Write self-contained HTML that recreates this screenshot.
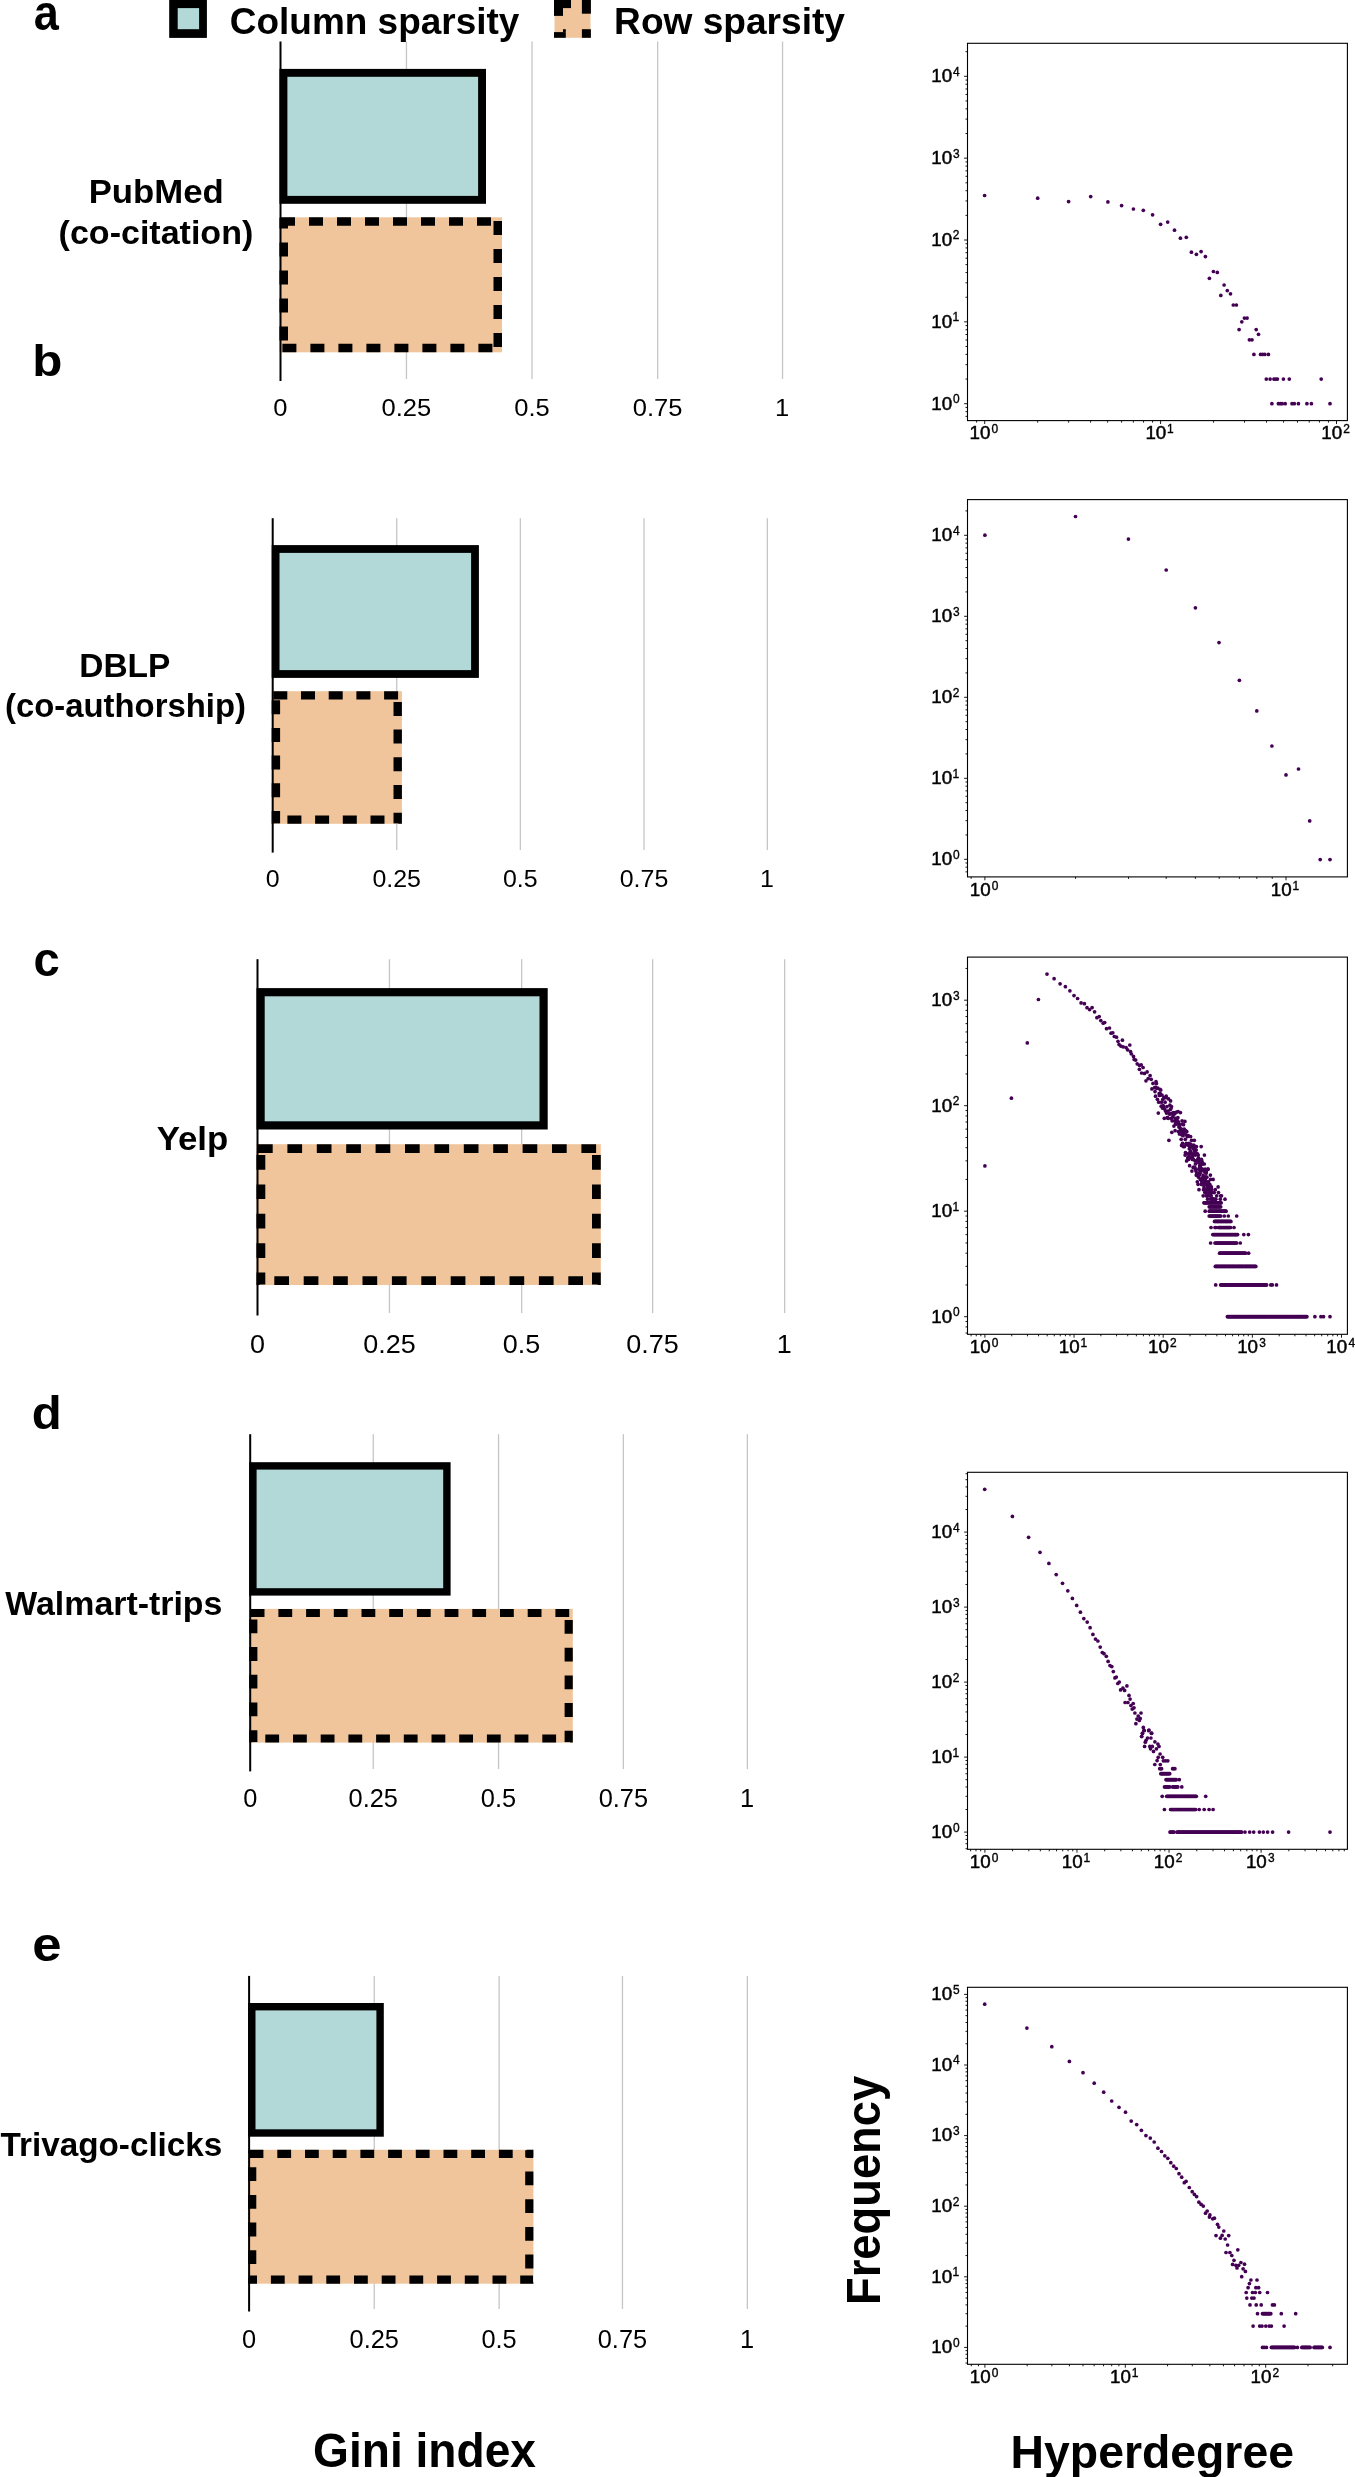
<!DOCTYPE html>
<html><head><meta charset="utf-8"><style>
html,body{margin:0;padding:0;background:#fff;}
svg{display:block;will-change:transform;font-family:"Liberation Sans",sans-serif;}
</style></head><body>
<svg width="1355" height="2477" viewBox="0 0 1355 2477">
<rect width="1355" height="2477" fill="#fff"/>
<rect x="405.8" y="41.5" width="1.3" height="337.5" fill="#c6c6c6"/>
<rect x="531.4" y="41.5" width="1.3" height="337.5" fill="#c6c6c6"/>
<rect x="657.0" y="41.5" width="1.3" height="337.5" fill="#c6c6c6"/>
<rect x="781.9" y="41.5" width="1.3" height="337.5" fill="#c6c6c6"/>
<rect x="279.5" y="68.9" width="206.5" height="134.9" fill="#000"/>
<rect x="287.4" y="76.8" width="190.7" height="119.1" fill="#b2d9d8"/>
<rect x="279.5" y="217.3" width="222.5" height="135.0" fill="#f0c59b"/>
<clipPath id="c217"><rect x="279.5" y="217.3" width="222.5" height="135.0"/></clipPath>
<rect clip-path="url(#c217)" x="279.9" y="217.7" width="221.7" height="134.2" fill="none" stroke="#000" stroke-width="16.2" stroke-dasharray="14 14" stroke-dashoffset="-1.1"/>
<rect x="279.5" y="41.5" width="2" height="339.5" fill="#000"/>
<text x="273.39" y="415.86" font-size="24.45" textLength="14.20" lengthAdjust="spacingAndGlyphs">0</text>
<text x="381.58" y="415.86" font-size="24.45" textLength="49.68" lengthAdjust="spacingAndGlyphs">0.25</text>
<text x="514.26" y="415.86" font-size="24.45" textLength="35.48" lengthAdjust="spacingAndGlyphs">0.5</text>
<text x="632.78" y="415.86" font-size="24.45" textLength="49.68" lengthAdjust="spacingAndGlyphs">0.75</text>
<text x="775.07" y="415.86" font-size="24.45" textLength="14.20" lengthAdjust="spacingAndGlyphs">1</text>
<text x="88.65" y="203.20" font-size="33.10" font-weight="bold" textLength="135.15" lengthAdjust="spacingAndGlyphs">PubMed</text>
<text x="58.60" y="243.90" font-size="33.66" font-weight="bold" textLength="194.68" lengthAdjust="spacingAndGlyphs">(co-citation)</text>
<rect x="396.1" y="518.2" width="1.3" height="331.8" fill="#c6c6c6"/>
<rect x="519.7" y="518.2" width="1.3" height="331.8" fill="#c6c6c6"/>
<rect x="643.4" y="518.2" width="1.3" height="331.8" fill="#c6c6c6"/>
<rect x="766.7" y="518.2" width="1.3" height="331.8" fill="#c6c6c6"/>
<rect x="271.7" y="545.1" width="207.2" height="132.8" fill="#000"/>
<rect x="279.5" y="552.9" width="191.6" height="117.2" fill="#b2d9d8"/>
<rect x="271.7" y="691.2" width="130.2" height="132.6" fill="#f0c59b"/>
<clipPath id="c691"><rect x="271.7" y="691.2" width="130.2" height="132.6"/></clipPath>
<rect clip-path="url(#c691)" x="272.1" y="691.6" width="129.4" height="131.8" fill="none" stroke="#000" stroke-width="16.0" stroke-dasharray="14 13.7" stroke-dashoffset="-1.2000000000000002"/>
<rect x="271.7" y="518.2" width="2" height="334.4" fill="#000"/>
<text x="265.75" y="887.26" font-size="24.31" textLength="13.87" lengthAdjust="spacingAndGlyphs">0</text>
<text x="372.45" y="887.26" font-size="24.31" textLength="48.53" lengthAdjust="spacingAndGlyphs">0.25</text>
<text x="502.97" y="887.26" font-size="24.31" textLength="34.66" lengthAdjust="spacingAndGlyphs">0.5</text>
<text x="619.75" y="887.26" font-size="24.31" textLength="48.53" lengthAdjust="spacingAndGlyphs">0.75</text>
<text x="760.04" y="887.26" font-size="24.31" textLength="13.87" lengthAdjust="spacingAndGlyphs">1</text>
<text x="79.24" y="677.00" font-size="33.75" font-weight="bold" textLength="91.12" lengthAdjust="spacingAndGlyphs">DBLP</text>
<text x="5.06" y="717.30" font-size="32.55" font-weight="bold" textLength="240.89" lengthAdjust="spacingAndGlyphs">(co-authorship)</text>
<rect x="388.8" y="959.2" width="1.3" height="353.8" fill="#c6c6c6"/>
<rect x="521.0" y="959.2" width="1.3" height="353.8" fill="#c6c6c6"/>
<rect x="652.0" y="959.2" width="1.3" height="353.8" fill="#c6c6c6"/>
<rect x="784.0" y="959.2" width="1.3" height="353.8" fill="#c6c6c6"/>
<rect x="256.5" y="988.1" width="291.2" height="141.4" fill="#000"/>
<rect x="264.7" y="996.3" width="274.8" height="125.0" fill="#b2d9d8"/>
<rect x="256.5" y="1144.2" width="344.3" height="140.8" fill="#f0c59b"/>
<clipPath id="c1144"><rect x="256.5" y="1144.2" width="344.3" height="140.8"/></clipPath>
<rect clip-path="url(#c1144)" x="256.9" y="1144.6" width="343.5" height="140.0" fill="none" stroke="#000" stroke-width="16.8" stroke-dasharray="14.7 14.7" stroke-dashoffset="-1.1"/>
<rect x="256.5" y="959.2" width="2" height="356.3" fill="#000"/>
<text x="249.98" y="1353.24" font-size="25.72" textLength="15.00" lengthAdjust="spacingAndGlyphs">0</text>
<text x="363.17" y="1353.24" font-size="25.72" textLength="52.49" lengthAdjust="spacingAndGlyphs">0.25</text>
<text x="502.86" y="1353.24" font-size="25.72" textLength="37.49" lengthAdjust="spacingAndGlyphs">0.5</text>
<text x="626.37" y="1353.24" font-size="25.72" textLength="52.49" lengthAdjust="spacingAndGlyphs">0.75</text>
<text x="776.74" y="1353.24" font-size="25.72" textLength="15.00" lengthAdjust="spacingAndGlyphs">1</text>
<text x="156.69" y="1149.70" font-size="33.66" font-weight="bold" textLength="71.56" lengthAdjust="spacingAndGlyphs">Yelp</text>
<rect x="372.6" y="1434.2" width="1.3" height="334.8" fill="#c6c6c6"/>
<rect x="497.9" y="1434.2" width="1.3" height="334.8" fill="#c6c6c6"/>
<rect x="622.7" y="1434.2" width="1.3" height="334.8" fill="#c6c6c6"/>
<rect x="746.7" y="1434.2" width="1.3" height="334.8" fill="#c6c6c6"/>
<rect x="249.2" y="1462.2" width="201.4" height="133.4" fill="#000"/>
<rect x="256.6" y="1469.6" width="186.6" height="118.6" fill="#b2d9d8"/>
<rect x="249.2" y="1608.9" width="323.6" height="133.7" fill="#f0c59b"/>
<clipPath id="c1608"><rect x="249.2" y="1608.9" width="323.6" height="133.7"/></clipPath>
<rect clip-path="url(#c1608)" x="249.6" y="1609.3" width="322.8" height="132.9" fill="none" stroke="#000" stroke-width="15.600000000000001" stroke-dasharray="13.8 13.9" stroke-dashoffset="-1.1"/>
<rect x="249.2" y="1434.2" width="2" height="337.2" fill="#000"/>
<text x="243.13" y="1807.34" font-size="25.72" textLength="14.11" lengthAdjust="spacingAndGlyphs">0</text>
<text x="348.54" y="1807.34" font-size="25.72" textLength="49.36" lengthAdjust="spacingAndGlyphs">0.25</text>
<text x="480.87" y="1807.34" font-size="25.72" textLength="35.26" lengthAdjust="spacingAndGlyphs">0.5</text>
<text x="598.64" y="1807.34" font-size="25.72" textLength="49.36" lengthAdjust="spacingAndGlyphs">0.75</text>
<text x="739.91" y="1807.34" font-size="25.72" textLength="14.11" lengthAdjust="spacingAndGlyphs">1</text>
<text x="5.30" y="1615.20" font-size="33.66" font-weight="bold" textLength="217.09" lengthAdjust="spacingAndGlyphs">Walmart-trips</text>
<rect x="373.6" y="1975.9" width="1.3" height="333.1" fill="#c6c6c6"/>
<rect x="498.5" y="1975.9" width="1.3" height="333.1" fill="#c6c6c6"/>
<rect x="621.8" y="1975.9" width="1.3" height="333.1" fill="#c6c6c6"/>
<rect x="746.7" y="1975.9" width="1.3" height="333.1" fill="#c6c6c6"/>
<rect x="248.1" y="2003.0" width="135.7" height="133.7" fill="#000"/>
<rect x="255.5" y="2010.4" width="120.9" height="118.9" fill="#b2d9d8"/>
<rect x="248.1" y="2149.8" width="285.3" height="133.9" fill="#f0c59b"/>
<clipPath id="c2149"><rect x="248.1" y="2149.8" width="285.3" height="133.9"/></clipPath>
<rect clip-path="url(#c2149)" x="248.5" y="2150.2" width="284.5" height="133.1" fill="none" stroke="#000" stroke-width="15.600000000000001" stroke-dasharray="13.8 13.9" stroke-dashoffset="-1.1"/>
<rect x="248.1" y="1975.9" width="2" height="335.6" fill="#000"/>
<text x="242.03" y="2348.25" font-size="25.16" textLength="14.11" lengthAdjust="spacingAndGlyphs">0</text>
<text x="349.54" y="2348.25" font-size="25.16" textLength="49.36" lengthAdjust="spacingAndGlyphs">0.25</text>
<text x="481.47" y="2348.25" font-size="25.16" textLength="35.26" lengthAdjust="spacingAndGlyphs">0.5</text>
<text x="597.74" y="2348.25" font-size="25.16" textLength="49.36" lengthAdjust="spacingAndGlyphs">0.75</text>
<text x="739.91" y="2348.25" font-size="25.16" textLength="14.11" lengthAdjust="spacingAndGlyphs">1</text>
<text x="0.57" y="2156.10" font-size="32.97" font-weight="bold" textLength="221.77" lengthAdjust="spacingAndGlyphs">Trivago-clicks</text>
<text x="33.65" y="29.60" font-size="49.49" font-weight="bold" textLength="25.07" lengthAdjust="spacingAndGlyphs">a</text>
<text x="32.20" y="376.00" font-size="45.24" font-weight="bold" textLength="30.12" lengthAdjust="spacingAndGlyphs">b</text>
<text x="33.61" y="976.20" font-size="47.44" font-weight="bold" textLength="26.24" lengthAdjust="spacingAndGlyphs">c</text>
<text x="31.74" y="1429.20" font-size="45.93" font-weight="bold" textLength="30.00" lengthAdjust="spacingAndGlyphs">d</text>
<text x="32.39" y="1961.40" font-size="48.00" font-weight="bold" textLength="29.28" lengthAdjust="spacingAndGlyphs">e</text>
<rect x="169.2" y="-1" width="37.7" height="38.9" fill="#000"/>
<rect x="177.7" y="8.1" width="21.4" height="21.1" fill="#b2d9d8"/>
<text x="229.82" y="33.90" font-size="37.66" font-weight="bold" textLength="289.57" lengthAdjust="spacingAndGlyphs">Column sparsity</text>
<rect x="554.5" y="-1" width="36" height="38.8" fill="#f0c59b"/>
<rect x="554" y="-1" width="17" height="9.1" fill="#000"/>
<rect x="554" y="8" width="9" height="7.9" fill="#000"/>
<rect x="581.9" y="-1" width="9" height="14.7" fill="#000"/>
<rect x="554" y="32.1" width="11.8" height="5.7" fill="#000"/>
<rect x="563" y="29.2" width="2.8" height="3" fill="#000"/>
<rect x="581.9" y="29.2" width="9" height="8.6" fill="#000"/>
<text x="614.10" y="33.90" font-size="37.66" font-weight="bold" textLength="230.86" lengthAdjust="spacingAndGlyphs">Row sparsity</text>
<text x="313.06" y="2467.20" font-size="47.31" font-weight="bold" textLength="222.87" lengthAdjust="spacingAndGlyphs">Gini index</text>
<text x="1010.57" y="2467.50" font-size="46.34" font-weight="bold" textLength="283.40" lengthAdjust="spacingAndGlyphs">Hyperdegree</text>
<g transform="rotate(-90)"><text x="-2304.96" y="880.00" font-size="48.15" font-weight="bold" textLength="229.09" lengthAdjust="spacingAndGlyphs">Frequency</text></g>
<rect x="967.50" y="43.30" width="379.90" height="377.30" fill="none" stroke="#000" stroke-width="1.1"/>
<path d="M965.50 416.38H967.50M965.50 411.63H967.50M965.50 407.45H967.50M964.10 403.70H967.50M965.50 379.06H967.50M965.50 364.65H967.50M965.50 354.42H967.50M965.50 346.49H967.50M965.50 340.01H967.50M965.50 334.53H967.50M965.50 329.78H967.50M965.50 325.60H967.50M964.10 321.85H967.50M965.50 297.21H967.50M965.50 282.80H967.50M965.50 272.57H967.50M965.50 264.64H967.50M965.50 258.16H967.50M965.50 252.68H967.50M965.50 247.93H967.50M965.50 243.75H967.50M964.10 240.00H967.50M965.50 215.36H967.50M965.50 200.95H967.50M965.50 190.72H967.50M965.50 182.79H967.50M965.50 176.31H967.50M965.50 170.83H967.50M965.50 166.08H967.50M965.50 161.90H967.50M964.10 158.15H967.50M965.50 133.51H967.50M965.50 119.10H967.50M965.50 108.87H967.50M965.50 100.94H967.50M965.50 94.46H967.50M965.50 88.98H967.50M965.50 84.23H967.50M965.50 80.05H967.50M964.10 76.30H967.50M965.50 51.66H967.50M976.65 420.6V422.60M984.70 420.6V424.00M1037.65 420.6V422.60M1068.63 420.6V422.60M1090.60 420.6V422.60M1107.65 420.6V422.60M1121.58 420.6V422.60M1133.35 420.6V422.60M1143.55 420.6V422.60M1152.55 420.6V422.60M1160.60 420.6V424.00M1213.55 420.6V422.60M1244.53 420.6V422.60M1266.50 420.6V422.60M1283.55 420.6V422.60M1297.48 420.6V422.60M1309.25 420.6V422.60M1319.45 420.6V422.60M1328.45 420.6V422.60M1336.50 420.6V424.00" stroke="#000" stroke-width="0.9" fill="none"/>
<text x="931.22" y="409.50" font-size="17.46" textLength="20.91" lengthAdjust="spacingAndGlyphs" stroke="#000" stroke-width="0.45">10</text>
<text x="952.90" y="403.11" font-size="11.94" stroke="#000" stroke-width="0.35">0</text>
<text x="931.22" y="327.65" font-size="17.46" textLength="20.91" lengthAdjust="spacingAndGlyphs" stroke="#000" stroke-width="0.45">10</text>
<text x="952.48" y="321.26" font-size="11.94" stroke="#000" stroke-width="0.35">1</text>
<text x="931.22" y="245.80" font-size="17.46" textLength="20.91" lengthAdjust="spacingAndGlyphs" stroke="#000" stroke-width="0.45">10</text>
<text x="952.78" y="239.41" font-size="11.94" stroke="#000" stroke-width="0.35">2</text>
<text x="931.22" y="163.95" font-size="17.46" textLength="20.91" lengthAdjust="spacingAndGlyphs" stroke="#000" stroke-width="0.45">10</text>
<text x="952.93" y="157.56" font-size="11.94" stroke="#000" stroke-width="0.35">3</text>
<text x="931.22" y="82.10" font-size="17.46" textLength="20.91" lengthAdjust="spacingAndGlyphs" stroke="#000" stroke-width="0.45">10</text>
<text x="953.11" y="75.71" font-size="11.94" stroke="#000" stroke-width="0.35">4</text>
<text x="969.52" y="439.20" font-size="17.46" textLength="20.91" lengthAdjust="spacingAndGlyphs" stroke="#000" stroke-width="0.45">10</text>
<text x="991.60" y="433.21" font-size="11.94" stroke="#000" stroke-width="0.35">0</text>
<text x="1145.42" y="439.20" font-size="17.46" textLength="20.91" lengthAdjust="spacingAndGlyphs" stroke="#000" stroke-width="0.45">10</text>
<text x="1167.08" y="433.21" font-size="11.94" stroke="#000" stroke-width="0.35">1</text>
<text x="1321.32" y="439.20" font-size="17.46" textLength="20.91" lengthAdjust="spacingAndGlyphs" stroke="#000" stroke-width="0.45">10</text>
<text x="1343.28" y="433.21" font-size="11.94" stroke="#000" stroke-width="0.35">2</text>
<rect x="967.50" y="499.60" width="379.90" height="377.30" fill="none" stroke="#000" stroke-width="1.1"/>
<path d="M965.50 871.85H967.50M965.50 867.15H967.50M965.50 863.01H967.50M964.10 859.30H967.50M965.50 834.92H967.50M965.50 820.65H967.50M965.50 810.53H967.50M965.50 802.68H967.50M965.50 796.27H967.50M965.50 790.85H967.50M965.50 786.15H967.50M965.50 782.01H967.50M964.10 778.30H967.50M965.50 753.92H967.50M965.50 739.65H967.50M965.50 729.53H967.50M965.50 721.68H967.50M965.50 715.27H967.50M965.50 709.85H967.50M965.50 705.15H967.50M965.50 701.01H967.50M964.10 697.30H967.50M965.50 672.92H967.50M965.50 658.65H967.50M965.50 648.53H967.50M965.50 640.68H967.50M965.50 634.27H967.50M965.50 628.85H967.50M965.50 624.15H967.50M965.50 620.01H967.50M964.10 616.30H967.50M965.50 591.92H967.50M965.50 577.65H967.50M965.50 567.53H967.50M965.50 559.68H967.50M965.50 553.27H967.50M965.50 547.85H967.50M965.50 543.15H967.50M965.50 539.01H967.50M964.10 535.30H967.50M965.50 510.92H967.50M971.12 876.9V878.90M984.90 876.9V880.30M1075.54 876.9V878.90M1128.56 876.9V878.90M1166.18 876.9V878.90M1195.36 876.9V878.90M1219.20 876.9V878.90M1239.36 876.9V878.90M1256.82 876.9V878.90M1272.22 876.9V878.90M1286.00 876.9V880.30" stroke="#000" stroke-width="0.9" fill="none"/>
<text x="931.22" y="865.10" font-size="17.46" textLength="20.91" lengthAdjust="spacingAndGlyphs" stroke="#000" stroke-width="0.45">10</text>
<text x="952.90" y="858.71" font-size="11.94" stroke="#000" stroke-width="0.35">0</text>
<text x="931.22" y="784.10" font-size="17.46" textLength="20.91" lengthAdjust="spacingAndGlyphs" stroke="#000" stroke-width="0.45">10</text>
<text x="952.48" y="777.71" font-size="11.94" stroke="#000" stroke-width="0.35">1</text>
<text x="931.22" y="703.10" font-size="17.46" textLength="20.91" lengthAdjust="spacingAndGlyphs" stroke="#000" stroke-width="0.45">10</text>
<text x="952.78" y="696.71" font-size="11.94" stroke="#000" stroke-width="0.35">2</text>
<text x="931.22" y="622.10" font-size="17.46" textLength="20.91" lengthAdjust="spacingAndGlyphs" stroke="#000" stroke-width="0.45">10</text>
<text x="952.93" y="615.71" font-size="11.94" stroke="#000" stroke-width="0.35">3</text>
<text x="931.22" y="541.10" font-size="17.46" textLength="20.91" lengthAdjust="spacingAndGlyphs" stroke="#000" stroke-width="0.45">10</text>
<text x="953.11" y="534.71" font-size="11.94" stroke="#000" stroke-width="0.35">4</text>
<text x="969.72" y="895.50" font-size="17.46" textLength="20.91" lengthAdjust="spacingAndGlyphs" stroke="#000" stroke-width="0.45">10</text>
<text x="991.80" y="889.51" font-size="11.94" stroke="#000" stroke-width="0.35">0</text>
<text x="1270.82" y="895.50" font-size="17.46" textLength="20.91" lengthAdjust="spacingAndGlyphs" stroke="#000" stroke-width="0.45">10</text>
<text x="1292.48" y="889.51" font-size="11.94" stroke="#000" stroke-width="0.35">1</text>
<rect x="967.50" y="957.10" width="379.90" height="377.20" fill="none" stroke="#000" stroke-width="1.1"/>
<path d="M965.50 1333.04H967.50M965.50 1326.92H967.50M965.50 1321.53H967.50M964.10 1316.70H967.50M965.50 1284.94H967.50M965.50 1266.36H967.50M965.50 1253.18H967.50M965.50 1242.96H967.50M965.50 1234.61H967.50M965.50 1227.54H967.50M965.50 1221.42H967.50M965.50 1216.03H967.50M964.10 1211.20H967.50M965.50 1179.44H967.50M965.50 1160.86H967.50M965.50 1147.68H967.50M965.50 1137.46H967.50M965.50 1129.11H967.50M965.50 1122.04H967.50M965.50 1115.92H967.50M965.50 1110.53H967.50M964.10 1105.70H967.50M965.50 1073.94H967.50M965.50 1055.36H967.50M965.50 1042.18H967.50M965.50 1031.96H967.50M965.50 1023.61H967.50M965.50 1016.54H967.50M965.50 1010.42H967.50M965.50 1005.03H967.50M964.10 1000.20H967.50M965.50 968.44H967.50M971.09 1334.3V1336.30M976.26 1334.3V1336.30M980.82 1334.3V1336.30M984.90 1334.3V1337.70M1011.74 1334.3V1336.30M1027.44 1334.3V1336.30M1038.57 1334.3V1336.30M1047.21 1334.3V1336.30M1054.27 1334.3V1336.30M1060.24 1334.3V1336.30M1065.41 1334.3V1336.30M1069.97 1334.3V1336.30M1074.05 1334.3V1337.70M1100.89 1334.3V1336.30M1116.59 1334.3V1336.30M1127.72 1334.3V1336.30M1136.36 1334.3V1336.30M1143.42 1334.3V1336.30M1149.39 1334.3V1336.30M1154.56 1334.3V1336.30M1159.12 1334.3V1336.30M1163.20 1334.3V1337.70M1190.04 1334.3V1336.30M1205.74 1334.3V1336.30M1216.87 1334.3V1336.30M1225.51 1334.3V1336.30M1232.57 1334.3V1336.30M1238.54 1334.3V1336.30M1243.71 1334.3V1336.30M1248.27 1334.3V1336.30M1252.35 1334.3V1337.70M1279.19 1334.3V1336.30M1294.89 1334.3V1336.30M1306.02 1334.3V1336.30M1314.66 1334.3V1336.30M1321.72 1334.3V1336.30M1327.69 1334.3V1336.30M1332.86 1334.3V1336.30M1337.42 1334.3V1336.30M1341.50 1334.3V1337.70" stroke="#000" stroke-width="0.9" fill="none"/>
<text x="931.22" y="1322.50" font-size="17.46" textLength="20.91" lengthAdjust="spacingAndGlyphs" stroke="#000" stroke-width="0.45">10</text>
<text x="952.90" y="1316.11" font-size="11.94" stroke="#000" stroke-width="0.35">0</text>
<text x="931.22" y="1217.00" font-size="17.46" textLength="20.91" lengthAdjust="spacingAndGlyphs" stroke="#000" stroke-width="0.45">10</text>
<text x="952.48" y="1210.61" font-size="11.94" stroke="#000" stroke-width="0.35">1</text>
<text x="931.22" y="1111.50" font-size="17.46" textLength="20.91" lengthAdjust="spacingAndGlyphs" stroke="#000" stroke-width="0.45">10</text>
<text x="952.78" y="1105.11" font-size="11.94" stroke="#000" stroke-width="0.35">2</text>
<text x="931.22" y="1006.00" font-size="17.46" textLength="20.91" lengthAdjust="spacingAndGlyphs" stroke="#000" stroke-width="0.45">10</text>
<text x="952.93" y="999.61" font-size="11.94" stroke="#000" stroke-width="0.35">3</text>
<text x="969.72" y="1352.90" font-size="17.46" textLength="20.91" lengthAdjust="spacingAndGlyphs" stroke="#000" stroke-width="0.45">10</text>
<text x="991.80" y="1346.91" font-size="11.94" stroke="#000" stroke-width="0.35">0</text>
<text x="1058.87" y="1352.90" font-size="17.46" textLength="20.91" lengthAdjust="spacingAndGlyphs" stroke="#000" stroke-width="0.45">10</text>
<text x="1080.53" y="1346.91" font-size="11.94" stroke="#000" stroke-width="0.35">1</text>
<text x="1148.02" y="1352.90" font-size="17.46" textLength="20.91" lengthAdjust="spacingAndGlyphs" stroke="#000" stroke-width="0.45">10</text>
<text x="1169.98" y="1346.91" font-size="11.94" stroke="#000" stroke-width="0.35">2</text>
<text x="1237.17" y="1352.90" font-size="17.46" textLength="20.91" lengthAdjust="spacingAndGlyphs" stroke="#000" stroke-width="0.45">10</text>
<text x="1259.28" y="1346.91" font-size="11.94" stroke="#000" stroke-width="0.35">3</text>
<text x="1326.32" y="1352.90" font-size="17.46" textLength="20.91" lengthAdjust="spacingAndGlyphs" stroke="#000" stroke-width="0.45">10</text>
<text x="1348.61" y="1346.91" font-size="11.94" stroke="#000" stroke-width="0.35">4</text>
<rect x="967.50" y="1472.30" width="379.90" height="377.00" fill="none" stroke="#000" stroke-width="1.1"/>
<path d="M965.50 1848.74H967.50M965.50 1843.72H967.50M965.50 1839.37H967.50M965.50 1835.53H967.50M964.10 1832.10H967.50M965.50 1809.52H967.50M965.50 1796.32H967.50M965.50 1786.95H967.50M965.50 1779.68H967.50M965.50 1773.74H967.50M965.50 1768.72H967.50M965.50 1764.37H967.50M965.50 1760.53H967.50M964.10 1757.10H967.50M965.50 1734.52H967.50M965.50 1721.32H967.50M965.50 1711.95H967.50M965.50 1704.68H967.50M965.50 1698.74H967.50M965.50 1693.72H967.50M965.50 1689.37H967.50M965.50 1685.53H967.50M964.10 1682.10H967.50M965.50 1659.52H967.50M965.50 1646.32H967.50M965.50 1636.95H967.50M965.50 1629.68H967.50M965.50 1623.74H967.50M965.50 1618.72H967.50M965.50 1614.37H967.50M965.50 1610.53H967.50M964.10 1607.10H967.50M965.50 1584.52H967.50M965.50 1571.32H967.50M965.50 1561.95H967.50M965.50 1554.68H967.50M965.50 1548.74H967.50M965.50 1543.72H967.50M965.50 1539.37H967.50M965.50 1535.53H967.50M964.10 1532.10H967.50M965.50 1509.52H967.50M965.50 1496.32H967.50M965.50 1486.95H967.50M965.50 1479.68H967.50M965.50 1473.74H967.50M970.64 1849.3V1851.30M975.98 1849.3V1851.30M980.69 1849.3V1851.30M984.90 1849.3V1852.70M1012.62 1849.3V1851.30M1028.83 1849.3V1851.30M1040.33 1849.3V1851.30M1049.25 1849.3V1851.30M1056.54 1849.3V1851.30M1062.71 1849.3V1851.30M1068.05 1849.3V1851.30M1072.76 1849.3V1851.30M1076.97 1849.3V1852.70M1104.69 1849.3V1851.30M1120.90 1849.3V1851.30M1132.40 1849.3V1851.30M1141.32 1849.3V1851.30M1148.61 1849.3V1851.30M1154.78 1849.3V1851.30M1160.12 1849.3V1851.30M1164.83 1849.3V1851.30M1169.04 1849.3V1852.70M1196.76 1849.3V1851.30M1212.97 1849.3V1851.30M1224.47 1849.3V1851.30M1233.39 1849.3V1851.30M1240.68 1849.3V1851.30M1246.85 1849.3V1851.30M1252.19 1849.3V1851.30M1256.90 1849.3V1851.30M1261.11 1849.3V1852.70M1288.83 1849.3V1851.30M1305.04 1849.3V1851.30M1316.54 1849.3V1851.30M1325.46 1849.3V1851.30M1332.75 1849.3V1851.30M1338.92 1849.3V1851.30M1344.26 1849.3V1851.30" stroke="#000" stroke-width="0.9" fill="none"/>
<text x="931.22" y="1837.90" font-size="17.46" textLength="20.91" lengthAdjust="spacingAndGlyphs" stroke="#000" stroke-width="0.45">10</text>
<text x="952.90" y="1831.51" font-size="11.94" stroke="#000" stroke-width="0.35">0</text>
<text x="931.22" y="1762.90" font-size="17.46" textLength="20.91" lengthAdjust="spacingAndGlyphs" stroke="#000" stroke-width="0.45">10</text>
<text x="952.48" y="1756.51" font-size="11.94" stroke="#000" stroke-width="0.35">1</text>
<text x="931.22" y="1687.90" font-size="17.46" textLength="20.91" lengthAdjust="spacingAndGlyphs" stroke="#000" stroke-width="0.45">10</text>
<text x="952.78" y="1681.51" font-size="11.94" stroke="#000" stroke-width="0.35">2</text>
<text x="931.22" y="1612.90" font-size="17.46" textLength="20.91" lengthAdjust="spacingAndGlyphs" stroke="#000" stroke-width="0.45">10</text>
<text x="952.93" y="1606.51" font-size="11.94" stroke="#000" stroke-width="0.35">3</text>
<text x="931.22" y="1537.90" font-size="17.46" textLength="20.91" lengthAdjust="spacingAndGlyphs" stroke="#000" stroke-width="0.45">10</text>
<text x="953.11" y="1531.51" font-size="11.94" stroke="#000" stroke-width="0.35">4</text>
<text x="969.72" y="1867.90" font-size="17.46" textLength="20.91" lengthAdjust="spacingAndGlyphs" stroke="#000" stroke-width="0.45">10</text>
<text x="991.80" y="1861.91" font-size="11.94" stroke="#000" stroke-width="0.35">0</text>
<text x="1061.79" y="1867.90" font-size="17.46" textLength="20.91" lengthAdjust="spacingAndGlyphs" stroke="#000" stroke-width="0.45">10</text>
<text x="1083.45" y="1861.91" font-size="11.94" stroke="#000" stroke-width="0.35">1</text>
<text x="1153.86" y="1867.90" font-size="17.46" textLength="20.91" lengthAdjust="spacingAndGlyphs" stroke="#000" stroke-width="0.45">10</text>
<text x="1175.82" y="1861.91" font-size="11.94" stroke="#000" stroke-width="0.35">2</text>
<text x="1245.93" y="1867.90" font-size="17.46" textLength="20.91" lengthAdjust="spacingAndGlyphs" stroke="#000" stroke-width="0.45">10</text>
<text x="1268.04" y="1861.91" font-size="11.94" stroke="#000" stroke-width="0.35">3</text>
<rect x="967.50" y="1987.30" width="379.90" height="377.00" fill="none" stroke="#000" stroke-width="1.1"/>
<path d="M965.50 2363.06H967.50M965.50 2358.34H967.50M965.50 2354.24H967.50M965.50 2350.63H967.50M964.10 2347.40H967.50M965.50 2326.15H967.50M965.50 2313.72H967.50M965.50 2304.89H967.50M965.50 2298.05H967.50M965.50 2292.46H967.50M965.50 2287.74H967.50M965.50 2283.64H967.50M965.50 2280.03H967.50M964.10 2276.80H967.50M965.50 2255.55H967.50M965.50 2243.12H967.50M965.50 2234.29H967.50M965.50 2227.45H967.50M965.50 2221.86H967.50M965.50 2217.14H967.50M965.50 2213.04H967.50M965.50 2209.43H967.50M964.10 2206.20H967.50M965.50 2184.95H967.50M965.50 2172.52H967.50M965.50 2163.69H967.50M965.50 2156.85H967.50M965.50 2151.26H967.50M965.50 2146.54H967.50M965.50 2142.44H967.50M965.50 2138.83H967.50M964.10 2135.60H967.50M965.50 2114.35H967.50M965.50 2101.92H967.50M965.50 2093.09H967.50M965.50 2086.25H967.50M965.50 2080.66H967.50M965.50 2075.94H967.50M965.50 2071.84H967.50M965.50 2068.23H967.50M964.10 2065.00H967.50M965.50 2043.75H967.50M965.50 2031.32H967.50M965.50 2022.49H967.50M965.50 2015.65H967.50M965.50 2010.06H967.50M965.50 2005.34H967.50M965.50 2001.24H967.50M965.50 1997.63H967.50M964.10 1994.40H967.50M971.29 2364.3V2366.30M978.48 2364.3V2366.30M984.90 2364.3V2367.70M1027.16 2364.3V2366.30M1051.89 2364.3V2366.30M1069.43 2364.3V2366.30M1083.04 2364.3V2366.30M1094.15 2364.3V2366.30M1103.55 2364.3V2366.30M1111.69 2364.3V2366.30M1118.88 2364.3V2366.30M1125.30 2364.3V2367.70M1167.56 2364.3V2366.30M1192.29 2364.3V2366.30M1209.83 2364.3V2366.30M1223.44 2364.3V2366.30M1234.55 2364.3V2366.30M1243.95 2364.3V2366.30M1252.09 2364.3V2366.30M1259.28 2364.3V2366.30M1265.70 2364.3V2367.70M1307.96 2364.3V2366.30M1332.69 2364.3V2366.30" stroke="#000" stroke-width="0.9" fill="none"/>
<text x="931.22" y="2353.20" font-size="17.46" textLength="20.91" lengthAdjust="spacingAndGlyphs" stroke="#000" stroke-width="0.45">10</text>
<text x="952.90" y="2346.81" font-size="11.94" stroke="#000" stroke-width="0.35">0</text>
<text x="931.22" y="2282.60" font-size="17.46" textLength="20.91" lengthAdjust="spacingAndGlyphs" stroke="#000" stroke-width="0.45">10</text>
<text x="952.48" y="2276.21" font-size="11.94" stroke="#000" stroke-width="0.35">1</text>
<text x="931.22" y="2212.00" font-size="17.46" textLength="20.91" lengthAdjust="spacingAndGlyphs" stroke="#000" stroke-width="0.45">10</text>
<text x="952.78" y="2205.61" font-size="11.94" stroke="#000" stroke-width="0.35">2</text>
<text x="931.22" y="2141.40" font-size="17.46" textLength="20.91" lengthAdjust="spacingAndGlyphs" stroke="#000" stroke-width="0.45">10</text>
<text x="952.93" y="2135.01" font-size="11.94" stroke="#000" stroke-width="0.35">3</text>
<text x="931.22" y="2070.80" font-size="17.46" textLength="20.91" lengthAdjust="spacingAndGlyphs" stroke="#000" stroke-width="0.45">10</text>
<text x="953.11" y="2064.41" font-size="11.94" stroke="#000" stroke-width="0.35">4</text>
<text x="931.22" y="2000.20" font-size="17.46" textLength="20.91" lengthAdjust="spacingAndGlyphs" stroke="#000" stroke-width="0.45">10</text>
<text x="952.90" y="1993.81" font-size="11.94" stroke="#000" stroke-width="0.35">5</text>
<text x="969.72" y="2382.90" font-size="17.46" textLength="20.91" lengthAdjust="spacingAndGlyphs" stroke="#000" stroke-width="0.45">10</text>
<text x="991.80" y="2376.91" font-size="11.94" stroke="#000" stroke-width="0.35">0</text>
<text x="1110.12" y="2382.90" font-size="17.46" textLength="20.91" lengthAdjust="spacingAndGlyphs" stroke="#000" stroke-width="0.45">10</text>
<text x="1131.78" y="2376.91" font-size="11.94" stroke="#000" stroke-width="0.35">1</text>
<text x="1250.52" y="2382.90" font-size="17.46" textLength="20.91" lengthAdjust="spacingAndGlyphs" stroke="#000" stroke-width="0.45">10</text>
<text x="1272.48" y="2376.91" font-size="11.94" stroke="#000" stroke-width="0.35">2</text>
<g fill="#440154"><circle cx="984.6" cy="195.5" r="1.85"/><circle cx="1037.7" cy="198.2" r="1.85"/><circle cx="1068.6" cy="201.6" r="1.85"/><circle cx="1090.7" cy="196.6" r="1.85"/><circle cx="1107.9" cy="201.9" r="1.85"/><circle cx="1121.6" cy="205.6" r="1.85"/><circle cx="1133.4" cy="209.0" r="1.85"/><circle cx="1143.3" cy="210.3" r="1.85"/><circle cx="1152.6" cy="214.8" r="1.85"/><circle cx="1160.6" cy="224.3" r="1.85"/><circle cx="1167.7" cy="222.1" r="1.85"/><circle cx="1174.5" cy="230.2" r="1.85"/><circle cx="1180.4" cy="238.2" r="1.85"/><circle cx="1186.3" cy="237.3" r="1.85"/><circle cx="1191.4" cy="252.2" r="1.85"/><circle cx="1196.4" cy="254.3" r="1.85"/><circle cx="1201.1" cy="251.6" r="1.85"/><circle cx="1205.4" cy="256.6" r="1.85"/><circle cx="1209.4" cy="278.3" r="1.85"/><circle cx="1213.4" cy="271.5" r="1.85"/><circle cx="1217.3" cy="272.4" r="1.85"/><circle cx="1220.8" cy="295.4" r="1.85"/><circle cx="1224.1" cy="285.0" r="1.85"/><circle cx="1227.3" cy="290.6" r="1.85"/><circle cx="1230.5" cy="293.8" r="1.85"/><circle cx="1233.3" cy="305.0" r="1.85"/><circle cx="1236.4" cy="305.0" r="1.85"/><circle cx="1239.1" cy="329.6" r="1.85"/><circle cx="1241.8" cy="321.8" r="1.85"/><circle cx="1244.4" cy="318.1" r="1.85"/><circle cx="1247.1" cy="318.1" r="1.85"/><circle cx="1249.4" cy="339.8" r="1.85"/><circle cx="1252.0" cy="339.8" r="1.85"/><circle cx="1256.2" cy="329.6" r="1.85"/><circle cx="1258.5" cy="334.3" r="1.85"/><circle cx="1253.9" cy="354.4" r="1.85"/><circle cx="1260.6" cy="354.4" r="1.85"/><circle cx="1262.7" cy="354.4" r="1.85"/><circle cx="1264.8" cy="354.4" r="1.85"/><circle cx="1268.4" cy="354.4" r="1.85"/><circle cx="1266.3" cy="379.1" r="1.85"/><circle cx="1270.1" cy="379.1" r="1.85"/><circle cx="1273.9" cy="379.1" r="1.85"/><circle cx="1275.7" cy="379.1" r="1.85"/><circle cx="1277.4" cy="379.1" r="1.85"/><circle cx="1283.4" cy="379.1" r="1.85"/><circle cx="1289.3" cy="379.1" r="1.85"/><circle cx="1321.2" cy="379.1" r="1.85"/><circle cx="1271.9" cy="403.7" r="1.85"/><circle cx="1278.4" cy="403.7" r="1.85"/><circle cx="1280.4" cy="403.7" r="1.85"/><circle cx="1282.2" cy="403.7" r="1.85"/><circle cx="1285.2" cy="403.7" r="1.85"/><circle cx="1292.0" cy="403.7" r="1.85"/><circle cx="1294.3" cy="403.7" r="1.85"/><circle cx="1298.4" cy="403.7" r="1.85"/><circle cx="1306.9" cy="403.7" r="1.85"/><circle cx="1311.4" cy="403.7" r="1.85"/><circle cx="1330.0" cy="403.7" r="1.85"/></g>
<g fill="#440154"><circle cx="984.9" cy="535.2" r="1.85"/><circle cx="1075.5" cy="516.5" r="1.85"/><circle cx="1128.4" cy="539.1" r="1.85"/><circle cx="1166.2" cy="570.0" r="1.85"/><circle cx="1195.4" cy="607.8" r="1.85"/><circle cx="1219.0" cy="642.6" r="1.85"/><circle cx="1239.4" cy="680.3" r="1.85"/><circle cx="1256.8" cy="710.9" r="1.85"/><circle cx="1271.9" cy="746.0" r="1.85"/><circle cx="1286.0" cy="774.9" r="1.85"/><circle cx="1298.5" cy="769.0" r="1.85"/><circle cx="1309.7" cy="820.9" r="1.85"/><circle cx="1320.2" cy="859.6" r="1.85"/><circle cx="1330.0" cy="859.6" r="1.85"/></g>
<g fill="#440154"><circle cx="984.9" cy="1165.9" r="1.85"/><circle cx="1011.4" cy="1098.2" r="1.85"/><circle cx="1027.3" cy="1042.9" r="1.85"/><circle cx="1038.4" cy="999.5" r="1.85"/><circle cx="1047.0" cy="974.1" r="1.85"/><circle cx="1054.1" cy="978.7" r="1.85"/><circle cx="1060.1" cy="983.8" r="1.85"/><circle cx="1065.4" cy="986.7" r="1.85"/><circle cx="1069.9" cy="990.8" r="1.85"/><circle cx="1074.0" cy="995.6" r="1.85"/><circle cx="1077.6" cy="998.5" r="1.85"/><circle cx="1081.1" cy="1002.9" r="1.85"/><circle cx="1084.4" cy="1003.7" r="1.85"/><circle cx="1087.0" cy="1007.7" r="1.85"/><circle cx="1089.6" cy="1009.6" r="1.85"/><circle cx="1092.1" cy="1007.6" r="1.85"/><circle cx="1094.6" cy="1011.8" r="1.85"/><circle cx="1096.9" cy="1017.7" r="1.85"/><circle cx="1099.2" cy="1016.6" r="1.85"/><circle cx="1100.8" cy="1020.6" r="1.85"/><circle cx="1103.2" cy="1023.2" r="1.85"/><circle cx="1104.7" cy="1022.5" r="1.85"/><circle cx="1106.5" cy="1028.7" r="1.85"/><circle cx="1109.5" cy="1028.0" r="1.85"/><circle cx="1111.0" cy="1033.2" r="1.85"/><circle cx="1112.8" cy="1032.8" r="1.85"/><circle cx="1114.3" cy="1036.5" r="1.85"/><circle cx="1116.5" cy="1037.2" r="1.85"/><circle cx="1118.0" cy="1041.3" r="1.85"/><circle cx="1122.4" cy="1040.2" r="1.85"/><circle cx="1119.1" cy="1044.6" r="1.85"/><circle cx="1120.9" cy="1046.1" r="1.85"/><circle cx="1123.1" cy="1046.8" r="1.85"/><circle cx="1126.1" cy="1047.6" r="1.85"/><circle cx="1127.6" cy="1049.8" r="1.85"/><circle cx="1129.8" cy="1045.0" r="1.85"/><circle cx="1130.5" cy="1051.6" r="1.85"/><circle cx="1131.3" cy="1053.8" r="1.85"/><circle cx="1133.5" cy="1056.4" r="1.85"/><circle cx="1134.2" cy="1059.4" r="1.85"/><circle cx="1135.7" cy="1060.1" r="1.85"/><circle cx="1137.2" cy="1063.8" r="1.85"/><circle cx="1139.4" cy="1065.3" r="1.85"/><circle cx="1141.2" cy="1064.9" r="1.85"/><circle cx="1143.1" cy="1067.5" r="1.85"/><circle cx="1139.4" cy="1069.3" r="1.85"/><circle cx="1141.6" cy="1073.0" r="1.85"/><circle cx="1144.5" cy="1073.4" r="1.85"/><circle cx="1147.1" cy="1071.9" r="1.85"/><circle cx="1146.0" cy="1080.8" r="1.85"/><circle cx="1148.2" cy="1078.6" r="1.85"/><circle cx="1150.1" cy="1075.6" r="1.85"/><circle cx="1151.2" cy="1079.3" r="1.85"/><circle cx="1153.0" cy="1083.4" r="1.85"/><circle cx="1151.9" cy="1088.9" r="1.85"/><circle cx="1155.6" cy="1087.4" r="1.85"/><circle cx="1160.0" cy="1089.3" r="1.85"/><circle cx="1154.6" cy="1087.7" r="1.85"/><circle cx="1155.0" cy="1091.6" r="1.85"/><circle cx="1155.5" cy="1096.2" r="1.85"/><circle cx="1156.0" cy="1081.7" r="1.85"/><circle cx="1156.4" cy="1083.6" r="1.85"/><circle cx="1156.9" cy="1088.4" r="1.85"/><circle cx="1157.4" cy="1099.3" r="1.85"/><circle cx="1157.8" cy="1088.0" r="1.85"/><circle cx="1158.3" cy="1113.1" r="1.85"/><circle cx="1158.7" cy="1102.2" r="1.85"/><circle cx="1159.1" cy="1093.7" r="1.85"/><circle cx="1159.5" cy="1095.5" r="1.85"/><circle cx="1160.0" cy="1093.0" r="1.85"/><circle cx="1160.4" cy="1094.4" r="1.85"/><circle cx="1160.8" cy="1090.0" r="1.85"/><circle cx="1161.2" cy="1106.2" r="1.85"/><circle cx="1161.6" cy="1102.2" r="1.85"/><circle cx="1162.0" cy="1095.1" r="1.85"/><circle cx="1162.4" cy="1108.1" r="1.85"/><circle cx="1162.8" cy="1099.3" r="1.85"/><circle cx="1163.2" cy="1105.7" r="1.85"/><circle cx="1163.6" cy="1106.6" r="1.85"/><circle cx="1164.0" cy="1097.3" r="1.85"/><circle cx="1164.3" cy="1118.3" r="1.85"/><circle cx="1164.7" cy="1109.0" r="1.85"/><circle cx="1165.1" cy="1102.2" r="1.85"/><circle cx="1165.5" cy="1111.0" r="1.85"/><circle cx="1165.8" cy="1097.7" r="1.85"/><circle cx="1166.2" cy="1096.2" r="1.85"/><circle cx="1166.5" cy="1113.1" r="1.85"/><circle cx="1166.9" cy="1106.6" r="1.85"/><circle cx="1167.2" cy="1117.7" r="1.85"/><circle cx="1167.6" cy="1117.7" r="1.85"/><circle cx="1167.9" cy="1111.0" r="1.85"/><circle cx="1168.3" cy="1118.3" r="1.85"/><circle cx="1168.6" cy="1098.9" r="1.85"/><circle cx="1168.9" cy="1140.3" r="1.85"/><circle cx="1169.3" cy="1113.1" r="1.85"/><circle cx="1169.6" cy="1114.2" r="1.85"/><circle cx="1169.9" cy="1105.2" r="1.85"/><circle cx="1170.3" cy="1109.5" r="1.85"/><circle cx="1170.6" cy="1100.9" r="1.85"/><circle cx="1170.9" cy="1108.5" r="1.85"/><circle cx="1171.2" cy="1118.3" r="1.85"/><circle cx="1171.5" cy="1106.6" r="1.85"/><circle cx="1171.8" cy="1132.3" r="1.85"/><circle cx="1172.1" cy="1120.8" r="1.85"/><circle cx="1172.5" cy="1113.1" r="1.85"/><circle cx="1172.8" cy="1117.1" r="1.85"/><circle cx="1173.1" cy="1115.4" r="1.85"/><circle cx="1173.4" cy="1113.1" r="1.85"/><circle cx="1173.7" cy="1112.6" r="1.85"/><circle cx="1173.9" cy="1126.1" r="1.85"/><circle cx="1174.2" cy="1113.1" r="1.85"/><circle cx="1174.5" cy="1120.8" r="1.85"/><circle cx="1174.8" cy="1113.7" r="1.85"/><circle cx="1175.1" cy="1130.7" r="1.85"/><circle cx="1175.4" cy="1124.0" r="1.85"/><circle cx="1175.7" cy="1118.3" r="1.85"/><circle cx="1175.9" cy="1121.4" r="1.85"/><circle cx="1176.2" cy="1124.0" r="1.85"/><circle cx="1176.5" cy="1112.1" r="1.85"/><circle cx="1176.8" cy="1120.8" r="1.85"/><circle cx="1177.0" cy="1120.1" r="1.85"/><circle cx="1177.3" cy="1124.0" r="1.85"/><circle cx="1177.6" cy="1121.4" r="1.85"/><circle cx="1177.9" cy="1117.7" r="1.85"/><circle cx="1178.1" cy="1111.6" r="1.85"/><circle cx="1178.4" cy="1131.5" r="1.85"/><circle cx="1178.6" cy="1122.0" r="1.85"/><circle cx="1178.9" cy="1126.9" r="1.85"/><circle cx="1179.2" cy="1131.5" r="1.85"/><circle cx="1179.4" cy="1133.9" r="1.85"/><circle cx="1179.7" cy="1124.7" r="1.85"/><circle cx="1179.9" cy="1127.6" r="1.85"/><circle cx="1180.2" cy="1130.7" r="1.85"/><circle cx="1180.4" cy="1112.6" r="1.85"/><circle cx="1180.7" cy="1133.9" r="1.85"/><circle cx="1180.9" cy="1132.3" r="1.85"/><circle cx="1181.2" cy="1139.3" r="1.85"/><circle cx="1181.4" cy="1129.1" r="1.85"/><circle cx="1181.6" cy="1145.4" r="1.85"/><circle cx="1181.9" cy="1134.8" r="1.85"/><circle cx="1182.1" cy="1120.8" r="1.85"/><circle cx="1182.4" cy="1124.0" r="1.85"/><circle cx="1182.6" cy="1143.3" r="1.85"/><circle cx="1182.8" cy="1130.7" r="1.85"/><circle cx="1183.1" cy="1135.7" r="1.85"/><circle cx="1183.3" cy="1146.6" r="1.85"/><circle cx="1183.5" cy="1124.7" r="1.85"/><circle cx="1183.7" cy="1132.3" r="1.85"/><circle cx="1184.0" cy="1133.1" r="1.85"/><circle cx="1184.2" cy="1129.1" r="1.85"/><circle cx="1184.4" cy="1146.6" r="1.85"/><circle cx="1184.6" cy="1130.7" r="1.85"/><circle cx="1184.9" cy="1121.4" r="1.85"/><circle cx="1185.1" cy="1155.1" r="1.85"/><circle cx="1185.3" cy="1139.3" r="1.85"/><circle cx="1185.5" cy="1152.5" r="1.85"/><circle cx="1185.7" cy="1130.7" r="1.85"/><circle cx="1186.0" cy="1144.4" r="1.85"/><circle cx="1186.2" cy="1134.8" r="1.85"/><circle cx="1186.4" cy="1143.3" r="1.85"/><circle cx="1186.6" cy="1160.9" r="1.85"/><circle cx="1186.8" cy="1131.5" r="1.85"/><circle cx="1187.0" cy="1144.4" r="1.85"/><circle cx="1187.2" cy="1153.8" r="1.85"/><circle cx="1187.4" cy="1136.6" r="1.85"/><circle cx="1187.6" cy="1144.4" r="1.85"/><circle cx="1187.8" cy="1157.9" r="1.85"/><circle cx="1188.1" cy="1157.9" r="1.85"/><circle cx="1188.3" cy="1135.7" r="1.85"/><circle cx="1188.5" cy="1159.4" r="1.85"/><circle cx="1188.7" cy="1145.4" r="1.85"/><circle cx="1188.9" cy="1156.5" r="1.85"/><circle cx="1189.1" cy="1143.3" r="1.85"/><circle cx="1189.3" cy="1148.8" r="1.85"/><circle cx="1189.5" cy="1153.8" r="1.85"/><circle cx="1189.6" cy="1165.7" r="1.85"/><circle cx="1189.8" cy="1145.4" r="1.85"/><circle cx="1190.0" cy="1147.7" r="1.85"/><circle cx="1190.2" cy="1152.5" r="1.85"/><circle cx="1190.4" cy="1151.3" r="1.85"/><circle cx="1190.6" cy="1136.6" r="1.85"/><circle cx="1190.8" cy="1152.5" r="1.85"/><circle cx="1191.0" cy="1144.4" r="1.85"/><circle cx="1191.2" cy="1153.8" r="1.85"/><circle cx="1191.4" cy="1157.9" r="1.85"/><circle cx="1191.6" cy="1140.3" r="1.85"/><circle cx="1191.7" cy="1153.8" r="1.85"/><circle cx="1191.9" cy="1171.1" r="1.85"/><circle cx="1192.1" cy="1156.5" r="1.85"/><circle cx="1192.3" cy="1159.4" r="1.85"/><circle cx="1192.5" cy="1157.9" r="1.85"/><circle cx="1192.7" cy="1146.6" r="1.85"/><circle cx="1192.8" cy="1155.1" r="1.85"/><circle cx="1193.0" cy="1148.8" r="1.85"/><circle cx="1193.2" cy="1167.4" r="1.85"/><circle cx="1193.4" cy="1159.4" r="1.85"/><circle cx="1193.6" cy="1167.4" r="1.85"/><circle cx="1193.7" cy="1145.4" r="1.85"/><circle cx="1193.9" cy="1145.4" r="1.85"/><circle cx="1194.1" cy="1153.8" r="1.85"/><circle cx="1194.3" cy="1140.3" r="1.85"/><circle cx="1194.4" cy="1147.7" r="1.85"/><circle cx="1194.6" cy="1151.3" r="1.85"/><circle cx="1194.8" cy="1167.4" r="1.85"/><circle cx="1194.9" cy="1146.6" r="1.85"/><circle cx="1195.1" cy="1160.9" r="1.85"/><circle cx="1195.3" cy="1155.1" r="1.85"/><circle cx="1195.4" cy="1164.0" r="1.85"/><circle cx="1195.6" cy="1169.2" r="1.85"/><circle cx="1195.8" cy="1150.0" r="1.85"/><circle cx="1195.9" cy="1171.1" r="1.85"/><circle cx="1196.1" cy="1150.0" r="1.85"/><circle cx="1196.3" cy="1175.1" r="1.85"/><circle cx="1196.4" cy="1146.6" r="1.85"/><circle cx="1196.6" cy="1175.1" r="1.85"/><circle cx="1196.8" cy="1173.0" r="1.85"/><circle cx="1196.9" cy="1153.8" r="1.85"/><circle cx="1197.1" cy="1160.9" r="1.85"/><circle cx="1197.3" cy="1181.8" r="1.85"/><circle cx="1197.4" cy="1153.8" r="1.85"/><circle cx="1197.6" cy="1162.4" r="1.85"/><circle cx="1197.7" cy="1159.4" r="1.85"/><circle cx="1197.9" cy="1160.9" r="1.85"/><circle cx="1198.1" cy="1184.3" r="1.85"/><circle cx="1198.2" cy="1155.1" r="1.85"/><circle cx="1198.4" cy="1157.9" r="1.85"/><circle cx="1198.5" cy="1177.2" r="1.85"/><circle cx="1198.7" cy="1173.0" r="1.85"/><circle cx="1198.8" cy="1169.2" r="1.85"/><circle cx="1199.0" cy="1189.7" r="1.85"/><circle cx="1199.1" cy="1159.4" r="1.85"/><circle cx="1199.3" cy="1162.4" r="1.85"/><circle cx="1199.4" cy="1175.1" r="1.85"/><circle cx="1199.6" cy="1165.7" r="1.85"/><circle cx="1199.7" cy="1167.4" r="1.85"/><circle cx="1199.9" cy="1173.0" r="1.85"/><circle cx="1200.0" cy="1173.0" r="1.85"/><circle cx="1200.2" cy="1165.7" r="1.85"/><circle cx="1200.3" cy="1179.4" r="1.85"/><circle cx="1200.5" cy="1171.1" r="1.85"/><circle cx="1200.6" cy="1167.4" r="1.85"/><circle cx="1200.8" cy="1169.2" r="1.85"/><circle cx="1200.9" cy="1179.4" r="1.85"/><circle cx="1201.1" cy="1179.4" r="1.85"/><circle cx="1201.2" cy="1146.6" r="1.85"/><circle cx="1201.4" cy="1159.4" r="1.85"/><circle cx="1201.5" cy="1184.3" r="1.85"/><circle cx="1201.7" cy="1181.8" r="1.85"/><circle cx="1201.8" cy="1160.9" r="1.85"/><circle cx="1201.9" cy="1184.3" r="1.85"/><circle cx="1202.1" cy="1164.0" r="1.85"/><circle cx="1202.2" cy="1162.4" r="1.85"/><circle cx="1202.4" cy="1164.0" r="1.85"/><circle cx="1202.5" cy="1169.2" r="1.85"/><circle cx="1202.6" cy="1181.8" r="1.85"/><circle cx="1202.8" cy="1181.8" r="1.85"/><circle cx="1202.9" cy="1177.2" r="1.85"/><circle cx="1203.1" cy="1175.1" r="1.85"/><circle cx="1203.2" cy="1195.8" r="1.85"/><circle cx="1203.3" cy="1179.4" r="1.85"/><circle cx="1203.5" cy="1189.7" r="1.85"/><circle cx="1203.6" cy="1184.3" r="1.85"/><circle cx="1203.7" cy="1171.1" r="1.85"/><circle cx="1203.9" cy="1177.2" r="1.85"/><circle cx="1204.0" cy="1186.9" r="1.85"/><circle cx="1204.2" cy="1181.8" r="1.85"/><circle cx="1204.3" cy="1164.0" r="1.85"/><circle cx="1204.4" cy="1155.1" r="1.85"/><circle cx="1204.6" cy="1189.7" r="1.85"/><circle cx="1204.7" cy="1189.7" r="1.85"/><circle cx="1204.8" cy="1181.8" r="1.85"/><circle cx="1205.0" cy="1192.6" r="1.85"/><circle cx="1205.1" cy="1169.2" r="1.85"/><circle cx="1205.2" cy="1192.6" r="1.85"/><circle cx="1205.3" cy="1179.4" r="1.85"/><circle cx="1205.5" cy="1189.7" r="1.85"/><circle cx="1205.6" cy="1177.2" r="1.85"/><circle cx="1205.7" cy="1177.2" r="1.85"/><circle cx="1205.9" cy="1192.6" r="1.85"/><circle cx="1206.0" cy="1173.0" r="1.85"/><circle cx="1206.1" cy="1173.0" r="1.85"/><circle cx="1206.2" cy="1184.3" r="1.85"/><circle cx="1206.4" cy="1195.8" r="1.85"/><circle cx="1206.5" cy="1171.1" r="1.85"/><circle cx="1206.9" cy="1177.2" r="1.85"/><circle cx="1207.1" cy="1181.8" r="1.85"/><circle cx="1207.3" cy="1195.8" r="1.85"/><circle cx="1207.4" cy="1186.9" r="1.85"/><circle cx="1207.5" cy="1195.8" r="1.85"/><circle cx="1207.6" cy="1199.2" r="1.85"/><circle cx="1207.7" cy="1184.3" r="1.85"/><circle cx="1207.9" cy="1169.2" r="1.85"/><circle cx="1208.0" cy="1169.2" r="1.85"/><circle cx="1208.1" cy="1186.9" r="1.85"/><circle cx="1208.2" cy="1186.9" r="1.85"/><circle cx="1208.4" cy="1189.7" r="1.85"/><circle cx="1208.5" cy="1181.8" r="1.85"/><circle cx="1208.6" cy="1189.7" r="1.85"/><circle cx="1208.7" cy="1192.6" r="1.85"/><circle cx="1209.0" cy="1192.6" r="1.85"/><circle cx="1209.2" cy="1189.7" r="1.85"/><circle cx="1209.3" cy="1189.7" r="1.85"/><circle cx="1209.4" cy="1192.6" r="1.85"/><circle cx="1209.5" cy="1189.7" r="1.85"/><circle cx="1209.8" cy="1184.3" r="1.85"/><circle cx="1210.0" cy="1195.8" r="1.85"/><circle cx="1210.1" cy="1186.9" r="1.85"/><circle cx="1210.4" cy="1175.1" r="1.85"/><circle cx="1210.5" cy="1199.2" r="1.85"/><circle cx="1210.6" cy="1179.4" r="1.85"/><circle cx="1210.7" cy="1192.6" r="1.85"/><circle cx="1210.9" cy="1189.7" r="1.85"/><circle cx="1211.0" cy="1195.8" r="1.85"/><circle cx="1211.1" cy="1195.8" r="1.85"/><circle cx="1211.4" cy="1186.9" r="1.85"/><circle cx="1211.7" cy="1192.6" r="1.85"/><circle cx="1211.8" cy="1189.7" r="1.85"/><circle cx="1212.6" cy="1199.2" r="1.85"/><circle cx="1212.7" cy="1199.2" r="1.85"/><circle cx="1213.1" cy="1179.4" r="1.85"/><circle cx="1213.2" cy="1199.2" r="1.85"/><circle cx="1213.3" cy="1199.2" r="1.85"/><circle cx="1214.2" cy="1192.6" r="1.85"/><circle cx="1215.3" cy="1189.7" r="1.85"/><circle cx="1215.4" cy="1199.2" r="1.85"/><circle cx="1215.8" cy="1199.2" r="1.85"/><circle cx="1216.7" cy="1195.8" r="1.85"/><circle cx="1218.1" cy="1186.9" r="1.85"/><circle cx="1218.5" cy="1192.6" r="1.85"/><circle cx="1220.3" cy="1199.2" r="1.85"/><circle cx="1220.7" cy="1195.8" r="1.85"/><circle cx="1221.5" cy="1195.8" r="1.85"/><circle cx="1225.0" cy="1199.2" r="1.85"/><circle cx="1203.9" cy="1202.8" r="1.85"/><circle cx="1204.7" cy="1202.8" r="1.85"/><circle cx="1205.5" cy="1202.8" r="1.85"/><circle cx="1206.4" cy="1202.8" r="1.85"/><circle cx="1207.2" cy="1202.8" r="1.85"/><circle cx="1208.0" cy="1202.8" r="1.85"/><circle cx="1208.8" cy="1202.8" r="1.85"/><circle cx="1209.7" cy="1202.8" r="1.85"/><circle cx="1210.5" cy="1202.8" r="1.85"/><circle cx="1211.3" cy="1202.8" r="1.85"/><circle cx="1212.1" cy="1202.8" r="1.85"/><circle cx="1213.0" cy="1202.8" r="1.85"/><circle cx="1213.8" cy="1202.8" r="1.85"/><circle cx="1214.6" cy="1202.8" r="1.85"/><circle cx="1215.4" cy="1202.8" r="1.85"/><circle cx="1216.3" cy="1202.8" r="1.85"/><circle cx="1217.1" cy="1202.8" r="1.85"/><circle cx="1217.9" cy="1202.8" r="1.85"/><circle cx="1218.7" cy="1202.8" r="1.85"/><circle cx="1219.6" cy="1202.8" r="1.85"/><circle cx="1220.4" cy="1202.8" r="1.85"/><circle cx="1221.2" cy="1202.8" r="1.85"/><circle cx="1209.2" cy="1206.8" r="1.85"/><circle cx="1210.0" cy="1206.8" r="1.85"/><circle cx="1210.8" cy="1206.8" r="1.85"/><circle cx="1211.7" cy="1206.8" r="1.85"/><circle cx="1212.5" cy="1206.8" r="1.85"/><circle cx="1213.3" cy="1206.8" r="1.85"/><circle cx="1214.1" cy="1206.8" r="1.85"/><circle cx="1215.0" cy="1206.8" r="1.85"/><circle cx="1215.8" cy="1206.8" r="1.85"/><circle cx="1216.6" cy="1206.8" r="1.85"/><circle cx="1217.4" cy="1206.8" r="1.85"/><circle cx="1218.2" cy="1206.8" r="1.85"/><circle cx="1219.1" cy="1206.8" r="1.85"/><circle cx="1219.9" cy="1206.8" r="1.85"/><circle cx="1220.7" cy="1206.8" r="1.85"/><circle cx="1205.2" cy="1211.2" r="1.85"/><circle cx="1209.2" cy="1211.2" r="1.85"/><circle cx="1210.0" cy="1211.2" r="1.85"/><circle cx="1210.8" cy="1211.2" r="1.85"/><circle cx="1211.6" cy="1211.2" r="1.85"/><circle cx="1212.4" cy="1211.2" r="1.85"/><circle cx="1213.2" cy="1211.2" r="1.85"/><circle cx="1214.0" cy="1211.2" r="1.85"/><circle cx="1214.8" cy="1211.2" r="1.85"/><circle cx="1215.6" cy="1211.2" r="1.85"/><circle cx="1216.4" cy="1211.2" r="1.85"/><circle cx="1217.2" cy="1211.2" r="1.85"/><circle cx="1218.1" cy="1211.2" r="1.85"/><circle cx="1218.9" cy="1211.2" r="1.85"/><circle cx="1219.7" cy="1211.2" r="1.85"/><circle cx="1220.5" cy="1211.2" r="1.85"/><circle cx="1221.3" cy="1211.2" r="1.85"/><circle cx="1222.1" cy="1211.2" r="1.85"/><circle cx="1222.9" cy="1211.2" r="1.85"/><circle cx="1223.7" cy="1211.2" r="1.85"/><circle cx="1224.5" cy="1211.2" r="1.85"/><circle cx="1225.3" cy="1211.2" r="1.85"/><circle cx="1226.1" cy="1211.2" r="1.85"/><circle cx="1209.2" cy="1216.0" r="1.85"/><circle cx="1210.0" cy="1216.0" r="1.85"/><circle cx="1210.8" cy="1216.0" r="1.85"/><circle cx="1211.7" cy="1216.0" r="1.85"/><circle cx="1212.5" cy="1216.0" r="1.85"/><circle cx="1213.3" cy="1216.0" r="1.85"/><circle cx="1214.1" cy="1216.0" r="1.85"/><circle cx="1215.0" cy="1216.0" r="1.85"/><circle cx="1215.8" cy="1216.0" r="1.85"/><circle cx="1216.6" cy="1216.0" r="1.85"/><circle cx="1217.4" cy="1216.0" r="1.85"/><circle cx="1218.2" cy="1216.0" r="1.85"/><circle cx="1219.1" cy="1216.0" r="1.85"/><circle cx="1219.9" cy="1216.0" r="1.85"/><circle cx="1220.7" cy="1216.0" r="1.85"/><circle cx="1224.3" cy="1216.0" r="1.85"/><circle cx="1228.3" cy="1216.0" r="1.85"/><circle cx="1236.7" cy="1216.0" r="1.85"/><circle cx="1214.5" cy="1221.4" r="1.85"/><circle cx="1215.3" cy="1221.4" r="1.85"/><circle cx="1216.1" cy="1221.4" r="1.85"/><circle cx="1217.0" cy="1221.4" r="1.85"/><circle cx="1217.8" cy="1221.4" r="1.85"/><circle cx="1218.6" cy="1221.4" r="1.85"/><circle cx="1219.4" cy="1221.4" r="1.85"/><circle cx="1220.2" cy="1221.4" r="1.85"/><circle cx="1221.1" cy="1221.4" r="1.85"/><circle cx="1221.9" cy="1221.4" r="1.85"/><circle cx="1222.7" cy="1221.4" r="1.85"/><circle cx="1223.5" cy="1221.4" r="1.85"/><circle cx="1224.3" cy="1221.4" r="1.85"/><circle cx="1225.2" cy="1221.4" r="1.85"/><circle cx="1226.0" cy="1221.4" r="1.85"/><circle cx="1226.8" cy="1221.4" r="1.85"/><circle cx="1227.6" cy="1221.4" r="1.85"/><circle cx="1228.4" cy="1221.4" r="1.85"/><circle cx="1229.3" cy="1221.4" r="1.85"/><circle cx="1230.1" cy="1221.4" r="1.85"/><circle cx="1230.9" cy="1221.4" r="1.85"/><circle cx="1211.0" cy="1227.5" r="1.85"/><circle cx="1215.0" cy="1227.5" r="1.85"/><circle cx="1216.0" cy="1227.5" r="1.85"/><circle cx="1218.5" cy="1227.5" r="1.85"/><circle cx="1219.3" cy="1227.5" r="1.85"/><circle cx="1220.1" cy="1227.5" r="1.85"/><circle cx="1220.9" cy="1227.5" r="1.85"/><circle cx="1221.7" cy="1227.5" r="1.85"/><circle cx="1222.5" cy="1227.5" r="1.85"/><circle cx="1223.3" cy="1227.5" r="1.85"/><circle cx="1224.1" cy="1227.5" r="1.85"/><circle cx="1224.9" cy="1227.5" r="1.85"/><circle cx="1225.7" cy="1227.5" r="1.85"/><circle cx="1226.5" cy="1227.5" r="1.85"/><circle cx="1227.3" cy="1227.5" r="1.85"/><circle cx="1228.1" cy="1227.5" r="1.85"/><circle cx="1228.9" cy="1227.5" r="1.85"/><circle cx="1229.7" cy="1227.5" r="1.85"/><circle cx="1230.5" cy="1227.5" r="1.85"/><circle cx="1234.0" cy="1227.5" r="1.85"/><circle cx="1212.8" cy="1234.6" r="1.85"/><circle cx="1213.6" cy="1234.6" r="1.85"/><circle cx="1214.5" cy="1234.6" r="1.85"/><circle cx="1215.3" cy="1234.6" r="1.85"/><circle cx="1216.1" cy="1234.6" r="1.85"/><circle cx="1216.9" cy="1234.6" r="1.85"/><circle cx="1217.8" cy="1234.6" r="1.85"/><circle cx="1218.6" cy="1234.6" r="1.85"/><circle cx="1219.4" cy="1234.6" r="1.85"/><circle cx="1220.2" cy="1234.6" r="1.85"/><circle cx="1221.1" cy="1234.6" r="1.85"/><circle cx="1221.9" cy="1234.6" r="1.85"/><circle cx="1222.7" cy="1234.6" r="1.85"/><circle cx="1223.5" cy="1234.6" r="1.85"/><circle cx="1224.4" cy="1234.6" r="1.85"/><circle cx="1225.2" cy="1234.6" r="1.85"/><circle cx="1226.0" cy="1234.6" r="1.85"/><circle cx="1226.9" cy="1234.6" r="1.85"/><circle cx="1227.7" cy="1234.6" r="1.85"/><circle cx="1228.5" cy="1234.6" r="1.85"/><circle cx="1229.3" cy="1234.6" r="1.85"/><circle cx="1230.2" cy="1234.6" r="1.85"/><circle cx="1231.0" cy="1234.6" r="1.85"/><circle cx="1231.8" cy="1234.6" r="1.85"/><circle cx="1232.6" cy="1234.6" r="1.85"/><circle cx="1233.5" cy="1234.6" r="1.85"/><circle cx="1234.3" cy="1234.6" r="1.85"/><circle cx="1235.1" cy="1234.6" r="1.85"/><circle cx="1235.9" cy="1234.6" r="1.85"/><circle cx="1236.8" cy="1234.6" r="1.85"/><circle cx="1237.6" cy="1234.6" r="1.85"/><circle cx="1243.8" cy="1234.6" r="1.85"/><circle cx="1248.4" cy="1234.6" r="1.85"/><circle cx="1210.6" cy="1243.0" r="1.85"/><circle cx="1215.0" cy="1243.0" r="1.85"/><circle cx="1215.8" cy="1243.0" r="1.85"/><circle cx="1216.6" cy="1243.0" r="1.85"/><circle cx="1217.4" cy="1243.0" r="1.85"/><circle cx="1218.2" cy="1243.0" r="1.85"/><circle cx="1219.0" cy="1243.0" r="1.85"/><circle cx="1219.8" cy="1243.0" r="1.85"/><circle cx="1220.6" cy="1243.0" r="1.85"/><circle cx="1221.4" cy="1243.0" r="1.85"/><circle cx="1222.2" cy="1243.0" r="1.85"/><circle cx="1223.0" cy="1243.0" r="1.85"/><circle cx="1223.8" cy="1243.0" r="1.85"/><circle cx="1224.6" cy="1243.0" r="1.85"/><circle cx="1225.4" cy="1243.0" r="1.85"/><circle cx="1226.3" cy="1243.0" r="1.85"/><circle cx="1227.1" cy="1243.0" r="1.85"/><circle cx="1227.9" cy="1243.0" r="1.85"/><circle cx="1228.7" cy="1243.0" r="1.85"/><circle cx="1229.5" cy="1243.0" r="1.85"/><circle cx="1230.3" cy="1243.0" r="1.85"/><circle cx="1231.1" cy="1243.0" r="1.85"/><circle cx="1231.9" cy="1243.0" r="1.85"/><circle cx="1232.7" cy="1243.0" r="1.85"/><circle cx="1233.5" cy="1243.0" r="1.85"/><circle cx="1234.3" cy="1243.0" r="1.85"/><circle cx="1235.1" cy="1243.0" r="1.85"/><circle cx="1235.9" cy="1243.0" r="1.85"/><circle cx="1236.7" cy="1243.0" r="1.85"/><circle cx="1240.3" cy="1243.0" r="1.85"/><circle cx="1219.6" cy="1253.2" r="1.85"/><circle cx="1220.4" cy="1253.2" r="1.85"/><circle cx="1221.2" cy="1253.2" r="1.85"/><circle cx="1222.0" cy="1253.2" r="1.85"/><circle cx="1222.8" cy="1253.2" r="1.85"/><circle cx="1223.6" cy="1253.2" r="1.85"/><circle cx="1224.5" cy="1253.2" r="1.85"/><circle cx="1225.3" cy="1253.2" r="1.85"/><circle cx="1226.1" cy="1253.2" r="1.85"/><circle cx="1226.9" cy="1253.2" r="1.85"/><circle cx="1227.7" cy="1253.2" r="1.85"/><circle cx="1228.5" cy="1253.2" r="1.85"/><circle cx="1229.3" cy="1253.2" r="1.85"/><circle cx="1230.1" cy="1253.2" r="1.85"/><circle cx="1230.9" cy="1253.2" r="1.85"/><circle cx="1231.7" cy="1253.2" r="1.85"/><circle cx="1232.5" cy="1253.2" r="1.85"/><circle cx="1233.4" cy="1253.2" r="1.85"/><circle cx="1234.2" cy="1253.2" r="1.85"/><circle cx="1235.0" cy="1253.2" r="1.85"/><circle cx="1235.8" cy="1253.2" r="1.85"/><circle cx="1236.6" cy="1253.2" r="1.85"/><circle cx="1237.4" cy="1253.2" r="1.85"/><circle cx="1238.2" cy="1253.2" r="1.85"/><circle cx="1239.0" cy="1253.2" r="1.85"/><circle cx="1239.8" cy="1253.2" r="1.85"/><circle cx="1240.6" cy="1253.2" r="1.85"/><circle cx="1241.5" cy="1253.2" r="1.85"/><circle cx="1242.3" cy="1253.2" r="1.85"/><circle cx="1243.1" cy="1253.2" r="1.85"/><circle cx="1243.9" cy="1253.2" r="1.85"/><circle cx="1244.7" cy="1253.2" r="1.85"/><circle cx="1245.5" cy="1253.2" r="1.85"/><circle cx="1248.6" cy="1253.2" r="1.85"/><circle cx="1215.3" cy="1266.4" r="1.85"/><circle cx="1216.1" cy="1266.4" r="1.85"/><circle cx="1216.9" cy="1266.4" r="1.85"/><circle cx="1217.7" cy="1266.4" r="1.85"/><circle cx="1218.5" cy="1266.4" r="1.85"/><circle cx="1219.3" cy="1266.4" r="1.85"/><circle cx="1220.2" cy="1266.4" r="1.85"/><circle cx="1221.0" cy="1266.4" r="1.85"/><circle cx="1221.8" cy="1266.4" r="1.85"/><circle cx="1222.6" cy="1266.4" r="1.85"/><circle cx="1223.4" cy="1266.4" r="1.85"/><circle cx="1224.2" cy="1266.4" r="1.85"/><circle cx="1225.0" cy="1266.4" r="1.85"/><circle cx="1225.8" cy="1266.4" r="1.85"/><circle cx="1226.6" cy="1266.4" r="1.85"/><circle cx="1227.5" cy="1266.4" r="1.85"/><circle cx="1228.3" cy="1266.4" r="1.85"/><circle cx="1229.1" cy="1266.4" r="1.85"/><circle cx="1229.9" cy="1266.4" r="1.85"/><circle cx="1230.7" cy="1266.4" r="1.85"/><circle cx="1231.5" cy="1266.4" r="1.85"/><circle cx="1232.3" cy="1266.4" r="1.85"/><circle cx="1233.1" cy="1266.4" r="1.85"/><circle cx="1233.9" cy="1266.4" r="1.85"/><circle cx="1234.7" cy="1266.4" r="1.85"/><circle cx="1235.5" cy="1266.4" r="1.85"/><circle cx="1236.4" cy="1266.4" r="1.85"/><circle cx="1237.2" cy="1266.4" r="1.85"/><circle cx="1238.0" cy="1266.4" r="1.85"/><circle cx="1238.8" cy="1266.4" r="1.85"/><circle cx="1239.6" cy="1266.4" r="1.85"/><circle cx="1240.4" cy="1266.4" r="1.85"/><circle cx="1241.2" cy="1266.4" r="1.85"/><circle cx="1242.0" cy="1266.4" r="1.85"/><circle cx="1242.8" cy="1266.4" r="1.85"/><circle cx="1243.6" cy="1266.4" r="1.85"/><circle cx="1244.5" cy="1266.4" r="1.85"/><circle cx="1245.3" cy="1266.4" r="1.85"/><circle cx="1246.1" cy="1266.4" r="1.85"/><circle cx="1246.9" cy="1266.4" r="1.85"/><circle cx="1247.7" cy="1266.4" r="1.85"/><circle cx="1248.5" cy="1266.4" r="1.85"/><circle cx="1249.3" cy="1266.4" r="1.85"/><circle cx="1250.1" cy="1266.4" r="1.85"/><circle cx="1250.9" cy="1266.4" r="1.85"/><circle cx="1251.8" cy="1266.4" r="1.85"/><circle cx="1252.6" cy="1266.4" r="1.85"/><circle cx="1253.4" cy="1266.4" r="1.85"/><circle cx="1254.2" cy="1266.4" r="1.85"/><circle cx="1255.0" cy="1266.4" r="1.85"/><circle cx="1255.8" cy="1266.4" r="1.85"/><circle cx="1215.7" cy="1284.9" r="1.85"/><circle cx="1220.7" cy="1284.9" r="1.85"/><circle cx="1221.5" cy="1284.9" r="1.85"/><circle cx="1222.3" cy="1284.9" r="1.85"/><circle cx="1223.1" cy="1284.9" r="1.85"/><circle cx="1223.9" cy="1284.9" r="1.85"/><circle cx="1224.7" cy="1284.9" r="1.85"/><circle cx="1225.5" cy="1284.9" r="1.85"/><circle cx="1226.3" cy="1284.9" r="1.85"/><circle cx="1227.1" cy="1284.9" r="1.85"/><circle cx="1227.9" cy="1284.9" r="1.85"/><circle cx="1228.8" cy="1284.9" r="1.85"/><circle cx="1229.6" cy="1284.9" r="1.85"/><circle cx="1230.4" cy="1284.9" r="1.85"/><circle cx="1231.2" cy="1284.9" r="1.85"/><circle cx="1232.0" cy="1284.9" r="1.85"/><circle cx="1232.8" cy="1284.9" r="1.85"/><circle cx="1233.6" cy="1284.9" r="1.85"/><circle cx="1234.4" cy="1284.9" r="1.85"/><circle cx="1235.2" cy="1284.9" r="1.85"/><circle cx="1236.0" cy="1284.9" r="1.85"/><circle cx="1236.8" cy="1284.9" r="1.85"/><circle cx="1237.6" cy="1284.9" r="1.85"/><circle cx="1238.4" cy="1284.9" r="1.85"/><circle cx="1239.2" cy="1284.9" r="1.85"/><circle cx="1240.0" cy="1284.9" r="1.85"/><circle cx="1240.8" cy="1284.9" r="1.85"/><circle cx="1241.6" cy="1284.9" r="1.85"/><circle cx="1242.4" cy="1284.9" r="1.85"/><circle cx="1243.2" cy="1284.9" r="1.85"/><circle cx="1244.1" cy="1284.9" r="1.85"/><circle cx="1244.9" cy="1284.9" r="1.85"/><circle cx="1245.7" cy="1284.9" r="1.85"/><circle cx="1246.5" cy="1284.9" r="1.85"/><circle cx="1247.3" cy="1284.9" r="1.85"/><circle cx="1248.1" cy="1284.9" r="1.85"/><circle cx="1248.9" cy="1284.9" r="1.85"/><circle cx="1249.7" cy="1284.9" r="1.85"/><circle cx="1250.5" cy="1284.9" r="1.85"/><circle cx="1251.3" cy="1284.9" r="1.85"/><circle cx="1252.1" cy="1284.9" r="1.85"/><circle cx="1252.9" cy="1284.9" r="1.85"/><circle cx="1253.7" cy="1284.9" r="1.85"/><circle cx="1254.5" cy="1284.9" r="1.85"/><circle cx="1255.3" cy="1284.9" r="1.85"/><circle cx="1256.1" cy="1284.9" r="1.85"/><circle cx="1256.9" cy="1284.9" r="1.85"/><circle cx="1257.7" cy="1284.9" r="1.85"/><circle cx="1258.5" cy="1284.9" r="1.85"/><circle cx="1259.4" cy="1284.9" r="1.85"/><circle cx="1260.2" cy="1284.9" r="1.85"/><circle cx="1261.0" cy="1284.9" r="1.85"/><circle cx="1261.8" cy="1284.9" r="1.85"/><circle cx="1262.6" cy="1284.9" r="1.85"/><circle cx="1263.4" cy="1284.9" r="1.85"/><circle cx="1264.2" cy="1284.9" r="1.85"/><circle cx="1265.0" cy="1284.9" r="1.85"/><circle cx="1265.8" cy="1284.9" r="1.85"/><circle cx="1266.6" cy="1284.9" r="1.85"/><circle cx="1270.8" cy="1284.9" r="1.85"/><circle cx="1272.3" cy="1284.9" r="1.85"/><circle cx="1276.5" cy="1284.9" r="1.85"/><circle cx="1227.4" cy="1316.7" r="1.85"/><circle cx="1228.2" cy="1316.7" r="1.85"/><circle cx="1229.0" cy="1316.7" r="1.85"/><circle cx="1229.8" cy="1316.7" r="1.85"/><circle cx="1230.6" cy="1316.7" r="1.85"/><circle cx="1231.4" cy="1316.7" r="1.85"/><circle cx="1232.2" cy="1316.7" r="1.85"/><circle cx="1233.0" cy="1316.7" r="1.85"/><circle cx="1233.8" cy="1316.7" r="1.85"/><circle cx="1234.6" cy="1316.7" r="1.85"/><circle cx="1235.4" cy="1316.7" r="1.85"/><circle cx="1236.2" cy="1316.7" r="1.85"/><circle cx="1237.0" cy="1316.7" r="1.85"/><circle cx="1237.8" cy="1316.7" r="1.85"/><circle cx="1238.6" cy="1316.7" r="1.85"/><circle cx="1239.4" cy="1316.7" r="1.85"/><circle cx="1240.2" cy="1316.7" r="1.85"/><circle cx="1241.1" cy="1316.7" r="1.85"/><circle cx="1241.9" cy="1316.7" r="1.85"/><circle cx="1242.7" cy="1316.7" r="1.85"/><circle cx="1243.5" cy="1316.7" r="1.85"/><circle cx="1244.3" cy="1316.7" r="1.85"/><circle cx="1245.1" cy="1316.7" r="1.85"/><circle cx="1245.9" cy="1316.7" r="1.85"/><circle cx="1246.7" cy="1316.7" r="1.85"/><circle cx="1247.5" cy="1316.7" r="1.85"/><circle cx="1248.3" cy="1316.7" r="1.85"/><circle cx="1249.1" cy="1316.7" r="1.85"/><circle cx="1249.9" cy="1316.7" r="1.85"/><circle cx="1250.7" cy="1316.7" r="1.85"/><circle cx="1251.5" cy="1316.7" r="1.85"/><circle cx="1252.3" cy="1316.7" r="1.85"/><circle cx="1253.1" cy="1316.7" r="1.85"/><circle cx="1253.9" cy="1316.7" r="1.85"/><circle cx="1254.7" cy="1316.7" r="1.85"/><circle cx="1255.5" cy="1316.7" r="1.85"/><circle cx="1256.3" cy="1316.7" r="1.85"/><circle cx="1257.1" cy="1316.7" r="1.85"/><circle cx="1257.9" cy="1316.7" r="1.85"/><circle cx="1258.7" cy="1316.7" r="1.85"/><circle cx="1259.5" cy="1316.7" r="1.85"/><circle cx="1260.3" cy="1316.7" r="1.85"/><circle cx="1261.1" cy="1316.7" r="1.85"/><circle cx="1261.9" cy="1316.7" r="1.85"/><circle cx="1262.7" cy="1316.7" r="1.85"/><circle cx="1263.5" cy="1316.7" r="1.85"/><circle cx="1264.3" cy="1316.7" r="1.85"/><circle cx="1265.1" cy="1316.7" r="1.85"/><circle cx="1265.9" cy="1316.7" r="1.85"/><circle cx="1266.7" cy="1316.7" r="1.85"/><circle cx="1267.6" cy="1316.7" r="1.85"/><circle cx="1268.4" cy="1316.7" r="1.85"/><circle cx="1269.2" cy="1316.7" r="1.85"/><circle cx="1270.0" cy="1316.7" r="1.85"/><circle cx="1270.8" cy="1316.7" r="1.85"/><circle cx="1271.6" cy="1316.7" r="1.85"/><circle cx="1272.4" cy="1316.7" r="1.85"/><circle cx="1273.2" cy="1316.7" r="1.85"/><circle cx="1274.0" cy="1316.7" r="1.85"/><circle cx="1274.8" cy="1316.7" r="1.85"/><circle cx="1275.6" cy="1316.7" r="1.85"/><circle cx="1276.4" cy="1316.7" r="1.85"/><circle cx="1277.2" cy="1316.7" r="1.85"/><circle cx="1278.0" cy="1316.7" r="1.85"/><circle cx="1278.8" cy="1316.7" r="1.85"/><circle cx="1279.6" cy="1316.7" r="1.85"/><circle cx="1280.4" cy="1316.7" r="1.85"/><circle cx="1281.2" cy="1316.7" r="1.85"/><circle cx="1282.0" cy="1316.7" r="1.85"/><circle cx="1282.8" cy="1316.7" r="1.85"/><circle cx="1283.6" cy="1316.7" r="1.85"/><circle cx="1284.4" cy="1316.7" r="1.85"/><circle cx="1285.2" cy="1316.7" r="1.85"/><circle cx="1286.0" cy="1316.7" r="1.85"/><circle cx="1286.8" cy="1316.7" r="1.85"/><circle cx="1287.6" cy="1316.7" r="1.85"/><circle cx="1288.4" cy="1316.7" r="1.85"/><circle cx="1289.2" cy="1316.7" r="1.85"/><circle cx="1290.0" cy="1316.7" r="1.85"/><circle cx="1290.8" cy="1316.7" r="1.85"/><circle cx="1291.6" cy="1316.7" r="1.85"/><circle cx="1292.4" cy="1316.7" r="1.85"/><circle cx="1293.2" cy="1316.7" r="1.85"/><circle cx="1294.1" cy="1316.7" r="1.85"/><circle cx="1294.9" cy="1316.7" r="1.85"/><circle cx="1295.7" cy="1316.7" r="1.85"/><circle cx="1296.5" cy="1316.7" r="1.85"/><circle cx="1297.3" cy="1316.7" r="1.85"/><circle cx="1298.1" cy="1316.7" r="1.85"/><circle cx="1298.9" cy="1316.7" r="1.85"/><circle cx="1299.7" cy="1316.7" r="1.85"/><circle cx="1300.5" cy="1316.7" r="1.85"/><circle cx="1301.3" cy="1316.7" r="1.85"/><circle cx="1302.1" cy="1316.7" r="1.85"/><circle cx="1302.9" cy="1316.7" r="1.85"/><circle cx="1303.7" cy="1316.7" r="1.85"/><circle cx="1304.5" cy="1316.7" r="1.85"/><circle cx="1305.3" cy="1316.7" r="1.85"/><circle cx="1306.1" cy="1316.7" r="1.85"/><circle cx="1306.9" cy="1316.7" r="1.85"/><circle cx="1314.9" cy="1316.7" r="1.85"/><circle cx="1320.9" cy="1316.7" r="1.85"/><circle cx="1323.5" cy="1316.7" r="1.85"/><circle cx="1330.0" cy="1316.7" r="1.85"/></g>
<g fill="#440154"><circle cx="984.7" cy="1489.3" r="1.85"/><circle cx="1012.4" cy="1516.4" r="1.85"/><circle cx="1028.6" cy="1537.3" r="1.85"/><circle cx="1040.0" cy="1552.3" r="1.85"/><circle cx="1048.9" cy="1563.4" r="1.85"/><circle cx="1056.2" cy="1574.6" r="1.85"/><circle cx="1062.5" cy="1583.3" r="1.85"/><circle cx="1067.8" cy="1590.8" r="1.85"/><circle cx="1072.4" cy="1598.4" r="1.85"/><circle cx="1076.7" cy="1605.4" r="1.85"/><circle cx="1080.4" cy="1612.2" r="1.85"/><circle cx="1083.8" cy="1618.6" r="1.85"/><circle cx="1087.2" cy="1622.1" r="1.85"/><circle cx="1090.1" cy="1627.7" r="1.85"/><circle cx="1092.9" cy="1634.4" r="1.85"/><circle cx="1095.5" cy="1639.1" r="1.85"/><circle cx="1097.9" cy="1641.0" r="1.85"/><circle cx="1100.2" cy="1647.1" r="1.85"/><circle cx="1102.3" cy="1652.5" r="1.85"/><circle cx="1104.0" cy="1653.7" r="1.85"/><circle cx="1106.3" cy="1656.3" r="1.85"/><circle cx="1108.1" cy="1661.4" r="1.85"/><circle cx="1110.0" cy="1665.6" r="1.85"/><circle cx="1111.8" cy="1666.6" r="1.85"/><circle cx="1113.3" cy="1671.6" r="1.85"/><circle cx="1114.9" cy="1677.9" r="1.85"/><circle cx="1116.3" cy="1677.1" r="1.85"/><circle cx="1117.8" cy="1683.5" r="1.85"/><circle cx="1119.3" cy="1682.0" r="1.85"/><circle cx="1120.6" cy="1689.9" r="1.85"/><circle cx="1122.9" cy="1688.2" r="1.85"/><circle cx="1124.6" cy="1690.4" r="1.85"/><circle cx="1126.9" cy="1685.9" r="1.85"/><circle cx="1129.0" cy="1695.4" r="1.85"/><circle cx="1130.1" cy="1699.1" r="1.85"/><circle cx="1125.1" cy="1702.5" r="1.85"/><circle cx="1127.9" cy="1702.5" r="1.85"/><circle cx="1130.9" cy="1705.5" r="1.85"/><circle cx="1133.2" cy="1703.5" r="1.85"/><circle cx="1132.2" cy="1709.1" r="1.85"/><circle cx="1134.0" cy="1707.8" r="1.85"/><circle cx="1134.9" cy="1713.0" r="1.85"/><circle cx="1141.0" cy="1713.0" r="1.85"/><circle cx="1138.2" cy="1716.1" r="1.85"/><circle cx="1136.9" cy="1719.1" r="1.85"/><circle cx="1140.2" cy="1718.4" r="1.85"/><circle cx="1139.3" cy="1720.5" r="1.85"/><circle cx="1135.9" cy="1723.7" r="1.85"/><circle cx="1143.3" cy="1727.4" r="1.85"/><circle cx="1144.2" cy="1730.4" r="1.85"/><circle cx="1149.0" cy="1730.0" r="1.85"/><circle cx="1142.5" cy="1733.4" r="1.85"/><circle cx="1151.7" cy="1733.2" r="1.85"/><circle cx="1141.7" cy="1736.5" r="1.85"/><circle cx="1143.9" cy="1730.7" r="1.85"/><circle cx="1148.7" cy="1730.7" r="1.85"/><circle cx="1142.4" cy="1733.3" r="1.85"/><circle cx="1151.4" cy="1733.3" r="1.85"/><circle cx="1141.6" cy="1736.5" r="1.85"/><circle cx="1147.5" cy="1738.0" r="1.85"/><circle cx="1150.9" cy="1738.0" r="1.85"/><circle cx="1146.1" cy="1740.3" r="1.85"/><circle cx="1145.3" cy="1742.2" r="1.85"/><circle cx="1154.9" cy="1741.8" r="1.85"/><circle cx="1157.9" cy="1744.0" r="1.85"/><circle cx="1144.6" cy="1746.4" r="1.85"/><circle cx="1149.8" cy="1746.4" r="1.85"/><circle cx="1152.3" cy="1746.4" r="1.85"/><circle cx="1159.0" cy="1746.4" r="1.85"/><circle cx="1150.5" cy="1748.8" r="1.85"/><circle cx="1156.4" cy="1748.8" r="1.85"/><circle cx="1153.5" cy="1751.4" r="1.85"/><circle cx="1160.1" cy="1754.0" r="1.85"/><circle cx="1158.2" cy="1757.3" r="1.85"/><circle cx="1162.7" cy="1757.3" r="1.85"/><circle cx="1157.1" cy="1760.6" r="1.85"/><circle cx="1163.4" cy="1760.8" r="1.85"/><circle cx="1165.6" cy="1760.8" r="1.85"/><circle cx="1167.8" cy="1760.8" r="1.85"/><circle cx="1154.8" cy="1764.5" r="1.85"/><circle cx="1160.3" cy="1764.5" r="1.85"/><circle cx="1159.7" cy="1768.7" r="1.85"/><circle cx="1160.7" cy="1768.7" r="1.85"/><circle cx="1161.6" cy="1768.7" r="1.85"/><circle cx="1172.6" cy="1768.7" r="1.85"/><circle cx="1173.8" cy="1768.7" r="1.85"/><circle cx="1174.9" cy="1768.7" r="1.85"/><circle cx="1160.8" cy="1773.7" r="1.85"/><circle cx="1161.6" cy="1773.7" r="1.85"/><circle cx="1162.4" cy="1773.7" r="1.85"/><circle cx="1163.2" cy="1773.7" r="1.85"/><circle cx="1164.0" cy="1773.7" r="1.85"/><circle cx="1164.8" cy="1773.7" r="1.85"/><circle cx="1165.7" cy="1773.7" r="1.85"/><circle cx="1166.5" cy="1773.7" r="1.85"/><circle cx="1167.3" cy="1773.7" r="1.85"/><circle cx="1168.1" cy="1773.7" r="1.85"/><circle cx="1168.9" cy="1773.7" r="1.85"/><circle cx="1169.7" cy="1773.7" r="1.85"/><circle cx="1166.0" cy="1779.7" r="1.85"/><circle cx="1166.9" cy="1779.7" r="1.85"/><circle cx="1167.7" cy="1779.7" r="1.85"/><circle cx="1168.6" cy="1779.7" r="1.85"/><circle cx="1169.4" cy="1779.7" r="1.85"/><circle cx="1170.3" cy="1779.7" r="1.85"/><circle cx="1171.2" cy="1779.7" r="1.85"/><circle cx="1172.0" cy="1779.7" r="1.85"/><circle cx="1172.9" cy="1779.7" r="1.85"/><circle cx="1173.7" cy="1779.7" r="1.85"/><circle cx="1174.6" cy="1779.7" r="1.85"/><circle cx="1175.4" cy="1779.7" r="1.85"/><circle cx="1176.3" cy="1779.7" r="1.85"/><circle cx="1179.3" cy="1779.7" r="1.85"/><circle cx="1164.5" cy="1786.9" r="1.85"/><circle cx="1165.4" cy="1786.9" r="1.85"/><circle cx="1166.2" cy="1786.9" r="1.85"/><circle cx="1167.1" cy="1786.9" r="1.85"/><circle cx="1168.0" cy="1786.9" r="1.85"/><circle cx="1168.8" cy="1786.9" r="1.85"/><circle cx="1169.7" cy="1786.9" r="1.85"/><circle cx="1172.6" cy="1786.9" r="1.85"/><circle cx="1173.5" cy="1786.9" r="1.85"/><circle cx="1174.3" cy="1786.9" r="1.85"/><circle cx="1175.2" cy="1786.9" r="1.85"/><circle cx="1176.1" cy="1786.9" r="1.85"/><circle cx="1176.9" cy="1786.9" r="1.85"/><circle cx="1177.8" cy="1786.9" r="1.85"/><circle cx="1181.8" cy="1786.9" r="1.85"/><circle cx="1162.2" cy="1796.3" r="1.85"/><circle cx="1166.7" cy="1796.3" r="1.85"/><circle cx="1167.5" cy="1796.3" r="1.85"/><circle cx="1168.3" cy="1796.3" r="1.85"/><circle cx="1169.2" cy="1796.3" r="1.85"/><circle cx="1170.0" cy="1796.3" r="1.85"/><circle cx="1170.8" cy="1796.3" r="1.85"/><circle cx="1171.6" cy="1796.3" r="1.85"/><circle cx="1172.5" cy="1796.3" r="1.85"/><circle cx="1173.3" cy="1796.3" r="1.85"/><circle cx="1174.1" cy="1796.3" r="1.85"/><circle cx="1174.9" cy="1796.3" r="1.85"/><circle cx="1175.7" cy="1796.3" r="1.85"/><circle cx="1176.6" cy="1796.3" r="1.85"/><circle cx="1177.4" cy="1796.3" r="1.85"/><circle cx="1178.2" cy="1796.3" r="1.85"/><circle cx="1179.0" cy="1796.3" r="1.85"/><circle cx="1179.9" cy="1796.3" r="1.85"/><circle cx="1180.7" cy="1796.3" r="1.85"/><circle cx="1181.5" cy="1796.3" r="1.85"/><circle cx="1182.3" cy="1796.3" r="1.85"/><circle cx="1183.1" cy="1796.3" r="1.85"/><circle cx="1184.0" cy="1796.3" r="1.85"/><circle cx="1184.8" cy="1796.3" r="1.85"/><circle cx="1185.6" cy="1796.3" r="1.85"/><circle cx="1186.4" cy="1796.3" r="1.85"/><circle cx="1187.3" cy="1796.3" r="1.85"/><circle cx="1188.1" cy="1796.3" r="1.85"/><circle cx="1188.9" cy="1796.3" r="1.85"/><circle cx="1189.7" cy="1796.3" r="1.85"/><circle cx="1190.5" cy="1796.3" r="1.85"/><circle cx="1191.4" cy="1796.3" r="1.85"/><circle cx="1192.2" cy="1796.3" r="1.85"/><circle cx="1193.0" cy="1796.3" r="1.85"/><circle cx="1193.8" cy="1796.3" r="1.85"/><circle cx="1194.7" cy="1796.3" r="1.85"/><circle cx="1195.5" cy="1796.3" r="1.85"/><circle cx="1196.3" cy="1796.3" r="1.85"/><circle cx="1205.7" cy="1796.3" r="1.85"/><circle cx="1164.4" cy="1809.5" r="1.85"/><circle cx="1170.6" cy="1809.5" r="1.85"/><circle cx="1171.4" cy="1809.5" r="1.85"/><circle cx="1172.2" cy="1809.5" r="1.85"/><circle cx="1173.0" cy="1809.5" r="1.85"/><circle cx="1173.8" cy="1809.5" r="1.85"/><circle cx="1174.6" cy="1809.5" r="1.85"/><circle cx="1175.4" cy="1809.5" r="1.85"/><circle cx="1176.2" cy="1809.5" r="1.85"/><circle cx="1177.1" cy="1809.5" r="1.85"/><circle cx="1177.9" cy="1809.5" r="1.85"/><circle cx="1178.7" cy="1809.5" r="1.85"/><circle cx="1179.5" cy="1809.5" r="1.85"/><circle cx="1180.3" cy="1809.5" r="1.85"/><circle cx="1181.1" cy="1809.5" r="1.85"/><circle cx="1181.9" cy="1809.5" r="1.85"/><circle cx="1182.7" cy="1809.5" r="1.85"/><circle cx="1183.5" cy="1809.5" r="1.85"/><circle cx="1184.3" cy="1809.5" r="1.85"/><circle cx="1185.1" cy="1809.5" r="1.85"/><circle cx="1185.9" cy="1809.5" r="1.85"/><circle cx="1186.7" cy="1809.5" r="1.85"/><circle cx="1187.5" cy="1809.5" r="1.85"/><circle cx="1188.3" cy="1809.5" r="1.85"/><circle cx="1189.1" cy="1809.5" r="1.85"/><circle cx="1190.0" cy="1809.5" r="1.85"/><circle cx="1190.8" cy="1809.5" r="1.85"/><circle cx="1191.6" cy="1809.5" r="1.85"/><circle cx="1192.4" cy="1809.5" r="1.85"/><circle cx="1193.2" cy="1809.5" r="1.85"/><circle cx="1194.0" cy="1809.5" r="1.85"/><circle cx="1194.8" cy="1809.5" r="1.85"/><circle cx="1195.6" cy="1809.5" r="1.85"/><circle cx="1199.2" cy="1809.5" r="1.85"/><circle cx="1204.2" cy="1809.5" r="1.85"/><circle cx="1209.1" cy="1809.5" r="1.85"/><circle cx="1213.1" cy="1809.5" r="1.85"/><circle cx="1170.0" cy="1832.1" r="1.85"/><circle cx="1170.8" cy="1832.1" r="1.85"/><circle cx="1171.6" cy="1832.1" r="1.85"/><circle cx="1172.4" cy="1832.1" r="1.85"/><circle cx="1173.2" cy="1832.1" r="1.85"/><circle cx="1174.0" cy="1832.1" r="1.85"/><circle cx="1177.0" cy="1832.1" r="1.85"/><circle cx="1177.8" cy="1832.1" r="1.85"/><circle cx="1178.6" cy="1832.1" r="1.85"/><circle cx="1179.4" cy="1832.1" r="1.85"/><circle cx="1180.2" cy="1832.1" r="1.85"/><circle cx="1181.0" cy="1832.1" r="1.85"/><circle cx="1181.9" cy="1832.1" r="1.85"/><circle cx="1182.7" cy="1832.1" r="1.85"/><circle cx="1183.5" cy="1832.1" r="1.85"/><circle cx="1184.3" cy="1832.1" r="1.85"/><circle cx="1185.1" cy="1832.1" r="1.85"/><circle cx="1185.9" cy="1832.1" r="1.85"/><circle cx="1186.7" cy="1832.1" r="1.85"/><circle cx="1187.5" cy="1832.1" r="1.85"/><circle cx="1188.3" cy="1832.1" r="1.85"/><circle cx="1189.1" cy="1832.1" r="1.85"/><circle cx="1189.9" cy="1832.1" r="1.85"/><circle cx="1190.7" cy="1832.1" r="1.85"/><circle cx="1191.6" cy="1832.1" r="1.85"/><circle cx="1192.4" cy="1832.1" r="1.85"/><circle cx="1193.2" cy="1832.1" r="1.85"/><circle cx="1194.0" cy="1832.1" r="1.85"/><circle cx="1194.8" cy="1832.1" r="1.85"/><circle cx="1195.6" cy="1832.1" r="1.85"/><circle cx="1196.4" cy="1832.1" r="1.85"/><circle cx="1197.2" cy="1832.1" r="1.85"/><circle cx="1198.0" cy="1832.1" r="1.85"/><circle cx="1198.8" cy="1832.1" r="1.85"/><circle cx="1199.6" cy="1832.1" r="1.85"/><circle cx="1200.5" cy="1832.1" r="1.85"/><circle cx="1201.3" cy="1832.1" r="1.85"/><circle cx="1202.1" cy="1832.1" r="1.85"/><circle cx="1202.9" cy="1832.1" r="1.85"/><circle cx="1203.7" cy="1832.1" r="1.85"/><circle cx="1204.5" cy="1832.1" r="1.85"/><circle cx="1205.3" cy="1832.1" r="1.85"/><circle cx="1206.1" cy="1832.1" r="1.85"/><circle cx="1206.9" cy="1832.1" r="1.85"/><circle cx="1207.7" cy="1832.1" r="1.85"/><circle cx="1208.5" cy="1832.1" r="1.85"/><circle cx="1209.3" cy="1832.1" r="1.85"/><circle cx="1210.2" cy="1832.1" r="1.85"/><circle cx="1211.0" cy="1832.1" r="1.85"/><circle cx="1211.8" cy="1832.1" r="1.85"/><circle cx="1212.6" cy="1832.1" r="1.85"/><circle cx="1213.4" cy="1832.1" r="1.85"/><circle cx="1214.2" cy="1832.1" r="1.85"/><circle cx="1215.0" cy="1832.1" r="1.85"/><circle cx="1215.8" cy="1832.1" r="1.85"/><circle cx="1216.6" cy="1832.1" r="1.85"/><circle cx="1217.4" cy="1832.1" r="1.85"/><circle cx="1218.2" cy="1832.1" r="1.85"/><circle cx="1219.1" cy="1832.1" r="1.85"/><circle cx="1219.9" cy="1832.1" r="1.85"/><circle cx="1220.7" cy="1832.1" r="1.85"/><circle cx="1221.5" cy="1832.1" r="1.85"/><circle cx="1222.3" cy="1832.1" r="1.85"/><circle cx="1223.1" cy="1832.1" r="1.85"/><circle cx="1223.9" cy="1832.1" r="1.85"/><circle cx="1224.7" cy="1832.1" r="1.85"/><circle cx="1225.5" cy="1832.1" r="1.85"/><circle cx="1226.3" cy="1832.1" r="1.85"/><circle cx="1227.1" cy="1832.1" r="1.85"/><circle cx="1228.0" cy="1832.1" r="1.85"/><circle cx="1228.8" cy="1832.1" r="1.85"/><circle cx="1229.6" cy="1832.1" r="1.85"/><circle cx="1230.4" cy="1832.1" r="1.85"/><circle cx="1231.2" cy="1832.1" r="1.85"/><circle cx="1232.0" cy="1832.1" r="1.85"/><circle cx="1232.8" cy="1832.1" r="1.85"/><circle cx="1233.6" cy="1832.1" r="1.85"/><circle cx="1234.4" cy="1832.1" r="1.85"/><circle cx="1235.2" cy="1832.1" r="1.85"/><circle cx="1236.0" cy="1832.1" r="1.85"/><circle cx="1236.8" cy="1832.1" r="1.85"/><circle cx="1237.7" cy="1832.1" r="1.85"/><circle cx="1238.5" cy="1832.1" r="1.85"/><circle cx="1239.3" cy="1832.1" r="1.85"/><circle cx="1240.1" cy="1832.1" r="1.85"/><circle cx="1240.9" cy="1832.1" r="1.85"/><circle cx="1241.7" cy="1832.1" r="1.85"/><circle cx="1245.0" cy="1832.1" r="1.85"/><circle cx="1249.7" cy="1832.1" r="1.85"/><circle cx="1253.7" cy="1832.1" r="1.85"/><circle cx="1259.4" cy="1832.1" r="1.85"/><circle cx="1263.3" cy="1832.1" r="1.85"/><circle cx="1267.6" cy="1832.1" r="1.85"/><circle cx="1272.6" cy="1832.1" r="1.85"/><circle cx="1288.6" cy="1832.1" r="1.85"/><circle cx="1330.0" cy="1832.1" r="1.85"/></g>
<g fill="#440154"><circle cx="984.7" cy="2004.2" r="1.85"/><circle cx="1026.9" cy="2028.1" r="1.85"/><circle cx="1051.8" cy="2046.7" r="1.85"/><circle cx="1069.4" cy="2061.4" r="1.85"/><circle cx="1083.0" cy="2072.7" r="1.85"/><circle cx="1094.2" cy="2083.2" r="1.85"/><circle cx="1103.7" cy="2092.2" r="1.85"/><circle cx="1111.7" cy="2101.0" r="1.85"/><circle cx="1119.0" cy="2107.3" r="1.85"/><circle cx="1125.5" cy="2112.2" r="1.85"/><circle cx="1131.2" cy="2121.1" r="1.85"/><circle cx="1136.7" cy="2124.6" r="1.85"/><circle cx="1141.4" cy="2130.3" r="1.85"/><circle cx="1145.9" cy="2135.6" r="1.85"/><circle cx="1150.3" cy="2138.1" r="1.85"/><circle cx="1154.2" cy="2142.0" r="1.85"/><circle cx="1157.9" cy="2148.2" r="1.85"/><circle cx="1161.5" cy="2151.5" r="1.85"/><circle cx="1164.8" cy="2155.8" r="1.85"/><circle cx="1167.8" cy="2158.3" r="1.85"/><circle cx="1170.8" cy="2162.7" r="1.85"/><circle cx="1173.7" cy="2166.2" r="1.85"/><circle cx="1176.3" cy="2168.5" r="1.85"/><circle cx="1179.0" cy="2173.7" r="1.85"/><circle cx="1181.7" cy="2177.2" r="1.85"/><circle cx="1184.3" cy="2182.7" r="1.85"/><circle cx="1186.1" cy="2181.3" r="1.85"/><circle cx="1189.3" cy="2187.5" r="1.85"/><circle cx="1192.2" cy="2191.7" r="1.85"/><circle cx="1194.4" cy="2194.4" r="1.85"/><circle cx="1196.6" cy="2196.6" r="1.85"/><circle cx="1198.9" cy="2202.2" r="1.85"/><circle cx="1201.1" cy="2204.4" r="1.85"/><circle cx="1203.3" cy="2206.1" r="1.85"/><circle cx="1207.2" cy="2211.0" r="1.85"/><circle cx="1205.5" cy="2213.2" r="1.85"/><circle cx="1209.9" cy="2214.9" r="1.85"/><circle cx="1209.4" cy="2217.1" r="1.85"/><circle cx="1212.7" cy="2218.8" r="1.85"/><circle cx="1214.4" cy="2218.2" r="1.85"/><circle cx="1217.5" cy="2224.3" r="1.85"/><circle cx="1218.8" cy="2227.1" r="1.85"/><circle cx="1223.8" cy="2231.0" r="1.85"/><circle cx="1216.0" cy="2235.6" r="1.85"/><circle cx="1220.4" cy="2238.2" r="1.85"/><circle cx="1222.1" cy="2235.4" r="1.85"/><circle cx="1225.2" cy="2239.0" r="1.85"/><circle cx="1228.7" cy="2235.6" r="1.85"/><circle cx="1227.6" cy="2245.0" r="1.85"/><circle cx="1237.8" cy="2249.8" r="1.85"/><circle cx="1226.0" cy="2252.5" r="1.85"/><circle cx="1229.9" cy="2252.5" r="1.85"/><circle cx="1231.8" cy="2255.5" r="1.85"/><circle cx="1234.0" cy="2260.3" r="1.85"/><circle cx="1232.6" cy="2264.4" r="1.85"/><circle cx="1237.0" cy="2268.0" r="1.85"/><circle cx="1235.9" cy="2265.3" r="1.85"/><circle cx="1238.7" cy="2265.3" r="1.85"/><circle cx="1240.9" cy="2262.5" r="1.85"/><circle cx="1244.5" cy="2264.2" r="1.85"/><circle cx="1243.1" cy="2268.8" r="1.85"/><circle cx="1245.4" cy="2271.4" r="1.85"/><circle cx="1241.7" cy="2276.7" r="1.85"/><circle cx="1250.9" cy="2280.0" r="1.85"/><circle cx="1257.0" cy="2280.0" r="1.85"/><circle cx="1249.4" cy="2283.6" r="1.85"/><circle cx="1248.1" cy="2287.7" r="1.85"/><circle cx="1255.9" cy="2287.7" r="1.85"/><circle cx="1258.6" cy="2287.7" r="1.85"/><circle cx="1246.2" cy="2292.5" r="1.85"/><circle cx="1252.5" cy="2292.5" r="1.85"/><circle cx="1255.3" cy="2292.5" r="1.85"/><circle cx="1259.7" cy="2292.5" r="1.85"/><circle cx="1267.5" cy="2292.5" r="1.85"/><circle cx="1246.8" cy="2298.1" r="1.85"/><circle cx="1251.8" cy="2298.1" r="1.85"/><circle cx="1254.0" cy="2298.1" r="1.85"/><circle cx="1250.0" cy="2304.9" r="1.85"/><circle cx="1256.2" cy="2304.9" r="1.85"/><circle cx="1261.2" cy="2304.9" r="1.85"/><circle cx="1272.5" cy="2304.9" r="1.85"/><circle cx="1274.4" cy="2304.9" r="1.85"/><circle cx="1257.5" cy="2313.7" r="1.85"/><circle cx="1262.5" cy="2313.7" r="1.85"/><circle cx="1263.3" cy="2313.7" r="1.85"/><circle cx="1264.2" cy="2313.7" r="1.85"/><circle cx="1265.0" cy="2313.7" r="1.85"/><circle cx="1265.8" cy="2313.7" r="1.85"/><circle cx="1266.7" cy="2313.7" r="1.85"/><circle cx="1267.5" cy="2313.7" r="1.85"/><circle cx="1268.3" cy="2313.7" r="1.85"/><circle cx="1269.1" cy="2313.7" r="1.85"/><circle cx="1270.0" cy="2313.7" r="1.85"/><circle cx="1270.8" cy="2313.7" r="1.85"/><circle cx="1281.3" cy="2313.7" r="1.85"/><circle cx="1295.7" cy="2313.7" r="1.85"/><circle cx="1253.1" cy="2326.1" r="1.85"/><circle cx="1259.7" cy="2326.1" r="1.85"/><circle cx="1262.0" cy="2326.1" r="1.85"/><circle cx="1265.8" cy="2326.1" r="1.85"/><circle cx="1269.2" cy="2326.1" r="1.85"/><circle cx="1271.4" cy="2326.1" r="1.85"/><circle cx="1284.1" cy="2326.1" r="1.85"/><circle cx="1262.5" cy="2347.4" r="1.85"/><circle cx="1264.2" cy="2347.4" r="1.85"/><circle cx="1266.4" cy="2347.4" r="1.85"/><circle cx="1271.4" cy="2347.4" r="1.85"/><circle cx="1272.2" cy="2347.4" r="1.85"/><circle cx="1273.1" cy="2347.4" r="1.85"/><circle cx="1273.9" cy="2347.4" r="1.85"/><circle cx="1274.7" cy="2347.4" r="1.85"/><circle cx="1275.5" cy="2347.4" r="1.85"/><circle cx="1276.4" cy="2347.4" r="1.85"/><circle cx="1277.2" cy="2347.4" r="1.85"/><circle cx="1278.0" cy="2347.4" r="1.85"/><circle cx="1278.9" cy="2347.4" r="1.85"/><circle cx="1279.7" cy="2347.4" r="1.85"/><circle cx="1280.5" cy="2347.4" r="1.85"/><circle cx="1281.3" cy="2347.4" r="1.85"/><circle cx="1282.2" cy="2347.4" r="1.85"/><circle cx="1283.0" cy="2347.4" r="1.85"/><circle cx="1283.8" cy="2347.4" r="1.85"/><circle cx="1284.7" cy="2347.4" r="1.85"/><circle cx="1285.5" cy="2347.4" r="1.85"/><circle cx="1286.3" cy="2347.4" r="1.85"/><circle cx="1287.1" cy="2347.4" r="1.85"/><circle cx="1288.0" cy="2347.4" r="1.85"/><circle cx="1288.8" cy="2347.4" r="1.85"/><circle cx="1289.6" cy="2347.4" r="1.85"/><circle cx="1290.5" cy="2347.4" r="1.85"/><circle cx="1291.3" cy="2347.4" r="1.85"/><circle cx="1292.1" cy="2347.4" r="1.85"/><circle cx="1292.9" cy="2347.4" r="1.85"/><circle cx="1293.8" cy="2347.4" r="1.85"/><circle cx="1294.6" cy="2347.4" r="1.85"/><circle cx="1297.4" cy="2347.4" r="1.85"/><circle cx="1301.8" cy="2347.4" r="1.85"/><circle cx="1302.6" cy="2347.4" r="1.85"/><circle cx="1303.5" cy="2347.4" r="1.85"/><circle cx="1304.3" cy="2347.4" r="1.85"/><circle cx="1305.1" cy="2347.4" r="1.85"/><circle cx="1305.9" cy="2347.4" r="1.85"/><circle cx="1306.8" cy="2347.4" r="1.85"/><circle cx="1307.6" cy="2347.4" r="1.85"/><circle cx="1308.4" cy="2347.4" r="1.85"/><circle cx="1309.3" cy="2347.4" r="1.85"/><circle cx="1310.1" cy="2347.4" r="1.85"/><circle cx="1314.0" cy="2347.4" r="1.85"/><circle cx="1314.8" cy="2347.4" r="1.85"/><circle cx="1315.7" cy="2347.4" r="1.85"/><circle cx="1316.5" cy="2347.4" r="1.85"/><circle cx="1317.3" cy="2347.4" r="1.85"/><circle cx="1318.2" cy="2347.4" r="1.85"/><circle cx="1319.0" cy="2347.4" r="1.85"/><circle cx="1319.8" cy="2347.4" r="1.85"/><circle cx="1320.6" cy="2347.4" r="1.85"/><circle cx="1321.5" cy="2347.4" r="1.85"/><circle cx="1322.3" cy="2347.4" r="1.85"/><circle cx="1330.0" cy="2347.4" r="1.85"/></g>
</svg>
</body></html>
